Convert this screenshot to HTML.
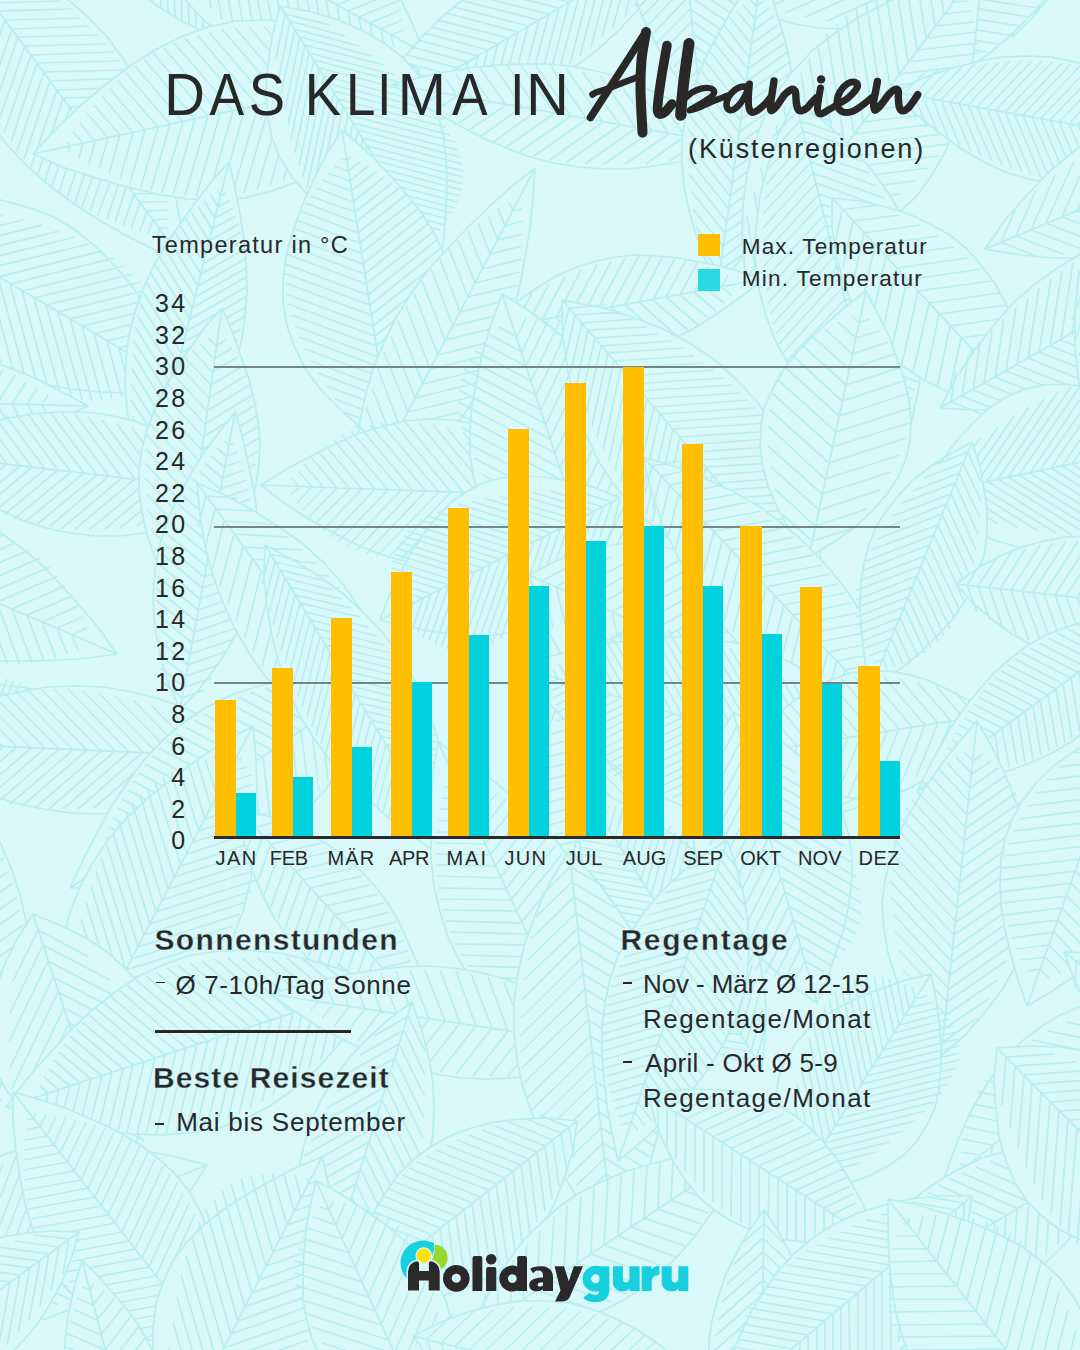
<!DOCTYPE html>
<html lang="de"><head><meta charset="utf-8"><title>Das Klima in Albanien</title>
<style>
html,body{margin:0;padding:0;}
body{width:1080px;height:1350px;overflow:hidden;background:#d8f8fa;position:relative;font-family:"Liberation Sans",sans-serif;}
.t{position:absolute;white-space:nowrap;}
.r{position:absolute;}
svg{position:absolute;left:0;top:0;}
</style></head><body>
<svg width="1080" height="1350" viewBox="0 0 1080 1350" style="position:absolute;left:0;top:0"><g fill="#d8f8fa" stroke="#baeff1" stroke-width="1.7" stroke-linejoin="round"><path d="M80,-144 58,-164 35,-182 12,-197 -12,-210 -36,-220 -61,-229 -86,-235 -112,-238 -138,-240 -165,-240 -192,-238 -220,-235 -247,-231 -275,-226 -275,-226 -252,-209 -229,-193 -206,-178 -182,-165 -158,-153 -134,-143 -109,-135 -84,-130 -58,-126 -31,-125 -4,-127 23,-130 51,-136 80,-144ZM80,-144L-275,-226M68,-147L63,-169M68,-147L53,-129M57,-149L50,-177M57,-149L39,-128M46,-152L37,-184M46,-152L24,-127M34,-155L25,-191M34,-155L10,-126M23,-157L12,-197M23,-157L-4,-126M11,-160L-0,-203M11,-160L-18,-126M-0,-163L-12,-209M-0,-163L-31,-126M-12,-165L-24,-214M-12,-165L-44,-127M-23,-168L-36,-218M-23,-168L-57,-128M-35,-170L-48,-222M-35,-170L-69,-130M-46,-173L-60,-225M-46,-173L-81,-132M-58,-176L-71,-228M-58,-176L-93,-134M-69,-178L-83,-231M-69,-178L-104,-137M-80,-181L-94,-233M-80,-181L-115,-140M-92,-184L-105,-234M-92,-184L-126,-144M-103,-186L-116,-235M-103,-186L-136,-148M-115,-189L-127,-236M-115,-189L-146,-152M-126,-191L-138,-236M-126,-191L-156,-157M-138,-194L-149,-236M-138,-194L-166,-161M-149,-197L-159,-235M-149,-197L-175,-167M-161,-199L-170,-234M-161,-199L-184,-172M-172,-202L-180,-233M-172,-202L-193,-178M-183,-205L-191,-232M-183,-205L-202,-183M-195,-207L-201,-230M-195,-207L-210,-189M-206,-210L-211,-228M-206,-210L-219,-196M-218,-212L-221,-226M-218,-212L-227,-202M-229,-215L-232,-224M-229,-215L-235,-208"/><path d="M-58,-285 -46,-260 -33,-237 -18,-217 -2,-198 15,-181 34,-166 53,-153 74,-143 96,-133 120,-126 143,-120 168,-115 193,-110 219,-107 219,-107 206,-130 191,-151 176,-171 161,-190 144,-208 127,-225 108,-239 88,-252 67,-262 45,-271 21,-277 -4,-282 -30,-285 -58,-285ZM-58,-285L219,-107M-48,-279L-42,-250M-48,-279L-19,-285M-37,-272L-30,-236M-37,-272L-2,-280M-27,-265L-18,-223M-27,-265L15,-275M-17,-259L-7,-211M-17,-259L31,-270M-7,-252L4,-199M-7,-252L46,-265M4,-246L15,-188M4,-246L61,-259M14,-239L26,-178M14,-239L74,-253M24,-232L37,-169M24,-232L87,-247M35,-226L48,-161M35,-226L99,-241M45,-219L58,-154M45,-219L110,-234M55,-213L69,-147M55,-213L120,-228M65,-206L79,-141M65,-206L130,-221M76,-200L89,-136M76,-200L139,-214M86,-193L98,-132M86,-193L146,-207M96,-186L108,-128M96,-186L154,-200M106,-180L118,-126M106,-180L160,-192M117,-173L127,-123M117,-173L166,-185M127,-167L136,-122M127,-167L172,-177M137,-160L145,-120M137,-160L177,-169M148,-153L154,-120M148,-153L181,-161M158,-147L163,-119M158,-147L185,-153M168,-140L172,-119M168,-140L189,-145M178,-134L181,-119M178,-134L193,-137M189,-127L190,-120M189,-127L196,-129"/><path d="M362,-94 351,-128 337,-157 322,-183 305,-206 286,-225 265,-241 242,-253 218,-262 192,-268 164,-271 135,-271 105,-270 75,-267 43,-262 43,-262 57,-232 72,-206 87,-180 104,-157 122,-136 142,-117 163,-102 185,-90 210,-82 237,-77 265,-76 296,-78 328,-84 362,-94ZM362,-94L43,-262M351,-99L335,-147M351,-99L303,-86M341,-105L320,-164M341,-105L281,-88M330,-111L306,-179M330,-111L260,-91M319,-116L292,-194M319,-116L240,-94M309,-122L279,-208M309,-122L221,-97M298,-127L266,-220M298,-127L203,-101M287,-133L253,-232M287,-133L187,-105M277,-139L241,-242M277,-139L171,-109M266,-144L229,-251M266,-144L157,-114M256,-150L218,-260M256,-150L144,-119M245,-155L207,-266M245,-155L132,-124M234,-161L196,-272M234,-161L121,-129M224,-166L186,-277M224,-166L111,-135M213,-172L176,-281M213,-172L103,-141M202,-178L166,-283M202,-178L95,-148M192,-183L157,-285M192,-183L89,-155M181,-189L148,-285M181,-189L83,-162M170,-194L139,-285M170,-194L78,-169M160,-200L131,-284M160,-200L75,-176M149,-206L123,-282M149,-206L71,-184M139,-211L115,-279M139,-211L69,-192M128,-217L108,-276M128,-217L67,-200M117,-222L100,-273M117,-222L66,-208M107,-228L93,-268M107,-228L66,-217M96,-234L86,-264M96,-234L65,-225M85,-239L79,-259M85,-239L66,-234M75,-245L72,-253M75,-245L67,-243"/><path d="M242,-217 247,-191 255,-167 264,-145 275,-125 288,-106 302,-89 318,-74 336,-61 355,-50 376,-40 398,-31 420,-24 443,-17 468,-11 468,-11 460,-35 451,-57 441,-79 430,-100 419,-119 406,-137 391,-154 375,-169 357,-181 337,-192 316,-201 293,-209 268,-214 242,-217ZM242,-217L468,-11M250,-210L251,-179M250,-210L281,-212M258,-202L259,-163M258,-202L297,-205M267,-194L268,-149M267,-194L312,-197M275,-187L277,-135M275,-187L327,-190M283,-179L285,-122M283,-179L341,-183M292,-172L294,-110M292,-172L353,-175M300,-164L302,-99M300,-164L365,-168M309,-156L311,-88M309,-156L376,-160M317,-149L319,-79M317,-149L387,-153M325,-141L327,-70M325,-141L396,-145M334,-133L336,-63M334,-133L404,-138M342,-126L344,-56M342,-126L412,-130M350,-118L352,-50M350,-118L418,-122M359,-110L361,-45M359,-110L424,-114M367,-103L369,-40M367,-103L429,-107M376,-95L377,-37M376,-95L434,-99M384,-87L386,-34M384,-87L438,-91M392,-80L394,-31M392,-80L441,-83M401,-72L402,-29M401,-72L443,-75M409,-64L410,-28M409,-64L446,-67M417,-57L418,-27M417,-57L447,-59M426,-49L427,-26M426,-49L449,-51M434,-41L435,-26M434,-41L450,-42M443,-34L443,-26M443,-34L450,-34"/><path d="M701,-88 682,-113 661,-135 640,-154 618,-170 595,-183 571,-194 547,-202 521,-207 495,-210 468,-210 440,-208 412,-205 384,-201 355,-195 355,-195 376,-174 397,-155 418,-136 440,-120 462,-105 486,-92 510,-82 534,-74 560,-70 586,-68 614,-69 642,-72 671,-79 701,-88ZM701,-88L355,-195M692,-91L687,-118M692,-91L673,-72M683,-94L677,-126M683,-94L660,-71M674,-97L667,-134M674,-97L647,-70M665,-100L657,-141M665,-100L635,-70M656,-102L647,-148M656,-102L623,-69M646,-105L637,-155M646,-105L611,-69M637,-108L628,-161M637,-108L599,-70M628,-111L618,-167M628,-111L588,-70M619,-114L608,-173M619,-114L577,-71M610,-116L599,-178M610,-116L566,-72M601,-119L589,-182M601,-119L556,-74M592,-122L580,-186M592,-122L546,-76M583,-125L571,-190M583,-125L536,-78M574,-128L561,-194M574,-128L526,-80M564,-131L552,-196M564,-131L517,-83M555,-133L543,-199M555,-133L508,-86M546,-136L534,-201M546,-136L500,-89M537,-139L525,-203M537,-139L491,-93M528,-142L517,-204M528,-142L483,-97M519,-145L508,-205M519,-145L476,-101M510,-147L499,-206M510,-147L468,-105M501,-150L490,-206M501,-150L461,-110M492,-153L482,-206M492,-153L454,-115M483,-156L473,-206M483,-156L447,-120M473,-159L465,-205M473,-159L440,-125M464,-162L456,-204M464,-162L434,-131M455,-164L448,-203M455,-164L427,-136M446,-167L440,-202M446,-167L421,-142M437,-170L431,-200M437,-170L415,-148M428,-173L423,-199M428,-173L409,-154M419,-176L415,-197M419,-176L404,-160M410,-178L407,-195M410,-178L398,-167M401,-181L399,-192M401,-181L393,-173M391,-184L390,-190M391,-184L387,-180"/><path d="M832,-48 820,-75 807,-99 793,-121 777,-140 760,-157 742,-172 722,-184 700,-194 677,-201 653,-207 629,-211 603,-214 577,-216 550,-216 550,-216 563,-192 577,-170 591,-149 607,-129 623,-111 641,-94 660,-80 680,-68 702,-59 725,-52 749,-47 775,-45 802,-45 832,-48ZM832,-48L550,-216M821,-54L819,-85M821,-54L793,-41M810,-61L808,-99M810,-61L775,-44M799,-67L797,-112M799,-67L758,-48M788,-74L786,-125M788,-74L742,-52M777,-80L775,-137M777,-80L726,-56M767,-87L764,-147M767,-87L712,-60M756,-93L753,-157M756,-93L698,-65M745,-100L742,-166M745,-100L685,-71M734,-106L731,-174M734,-106L673,-77M723,-113L720,-181M723,-113L661,-83M712,-119L709,-187M712,-119L651,-90M701,-125L698,-192M701,-125L641,-97M691,-132L687,-197M691,-132L632,-104M680,-138L677,-200M680,-138L624,-112M669,-145L666,-203M669,-145L616,-120M658,-151L655,-205M658,-151L609,-128M647,-158L645,-207M647,-158L603,-137M636,-164L634,-207M636,-164L597,-146M625,-171L624,-208M625,-171L592,-155M615,-177L613,-208M615,-177L587,-164M604,-184L603,-207M604,-184L583,-174M593,-190L592,-206M593,-190L578,-183M582,-197L582,-205M582,-197L575,-193"/><path d="M1057,-107 1039,-130 1021,-150 1002,-166 982,-179 962,-190 942,-196 921,-200 899,-200 877,-198 855,-193 832,-186 809,-177 785,-166 762,-154 762,-154 780,-134 799,-117 818,-102 838,-88 858,-76 878,-67 898,-60 919,-57 941,-57 963,-61 986,-67 1009,-77 1033,-90 1057,-107ZM1057,-107L762,-154M1042,-109L1017,-146M1042,-109L1007,-82M1026,-111L994,-159M1026,-111L981,-76M1010,-114L973,-171M1010,-114L957,-71M995,-116L952,-181M995,-116L934,-68M979,-119L933,-189M979,-119L913,-67M964,-121L915,-195M964,-121L894,-66M948,-124L898,-199M948,-124L877,-68M933,-126L883,-202M933,-126L862,-70M917,-129L869,-202M917,-129L848,-74M902,-131L856,-201M902,-131L836,-80M886,-134L844,-198M886,-134L826,-86M871,-136L833,-193M871,-136L817,-94M855,-139L823,-188M855,-139L809,-102M839,-141L813,-181M839,-141L802,-112M824,-144L804,-173M824,-144L796,-122M808,-146L796,-165M808,-146L791,-132M793,-149L788,-155M793,-149L787,-144"/><path d="M1013,37 1032,18 1048,-1 1061,-20 1071,-40 1078,-59 1082,-79 1083,-99 1081,-119 1077,-139 1070,-160 1061,-180 1051,-200 1039,-221 1025,-241 1025,-241 1010,-222 996,-203 984,-183 973,-164 964,-144 958,-125 954,-105 954,-85 956,-65 961,-45 970,-24 981,-4 995,17 1013,37ZM1013,37L1025,-241M1013,27L1041,7M1013,27L987,5M1013,17L1048,-8M1013,17L981,-11M1014,6L1055,-22M1014,6L976,-26M1014,-4L1061,-37M1014,-4L971,-41M1015,-14L1066,-50M1015,-14L967,-55M1015,-25L1070,-63M1015,-25L964,-68M1016,-35L1074,-76M1016,-35L961,-81M1016,-45L1077,-88M1016,-45L960,-93M1017,-56L1079,-100M1017,-56L959,-105M1017,-66L1080,-110M1017,-66L958,-116M1018,-76L1081,-121M1018,-76L959,-126M1018,-87L1080,-130M1018,-87L960,-136M1019,-97L1079,-140M1019,-97L962,-145M1019,-107L1078,-148M1019,-107L964,-154M1019,-117L1075,-157M1019,-117L968,-162M1020,-128L1072,-165M1020,-128L971,-169M1020,-138L1068,-172M1020,-138L976,-176M1021,-148L1064,-179M1021,-148L981,-183M1021,-159L1059,-186M1021,-159L986,-189M1022,-169L1054,-192M1022,-169L991,-195M1022,-179L1049,-198M1022,-179L997,-200M1023,-190L1043,-204M1023,-190L1004,-206M1023,-200L1037,-210M1023,-200L1010,-211M1024,-210L1030,-215M1024,-210L1017,-216"/><path d="M1018,2 1052,-3 1083,-11 1112,-21 1138,-33 1162,-47 1184,-64 1204,-83 1221,-104 1236,-128 1250,-153 1261,-180 1272,-208 1281,-237 1290,-268 1290,-268 1259,-260 1230,-251 1201,-240 1175,-229 1149,-215 1126,-200 1104,-183 1085,-164 1068,-142 1053,-118 1041,-92 1031,-63 1023,-32 1018,2ZM1018,2L1290,-268M1026,-6L1063,-4M1026,-6L1024,-44M1034,-14L1080,-12M1034,-14L1032,-60M1042,-22L1095,-19M1042,-22L1040,-75M1050,-30L1110,-27M1050,-30L1047,-90M1058,-38L1124,-34M1058,-38L1055,-104M1066,-46L1137,-42M1066,-46L1063,-117M1074,-54L1150,-50M1074,-54L1070,-130M1082,-62L1162,-57M1082,-62L1078,-142M1090,-70L1173,-65M1090,-70L1086,-153M1098,-78L1184,-73M1098,-78L1094,-164M1106,-86L1194,-81M1106,-86L1102,-174M1114,-94L1203,-88M1114,-94L1109,-183M1122,-101L1212,-96M1122,-101L1117,-191M1130,-109L1219,-104M1130,-109L1125,-199M1138,-117L1226,-112M1138,-117L1133,-206M1146,-125L1233,-120M1146,-125L1141,-212M1154,-133L1239,-128M1154,-133L1150,-218M1162,-141L1244,-136M1162,-141L1158,-223M1170,-149L1248,-145M1170,-149L1166,-228M1178,-157L1252,-153M1178,-157L1174,-231M1186,-165L1256,-161M1186,-165L1182,-235M1194,-173L1259,-169M1194,-173L1190,-238M1202,-181L1261,-177M1202,-181L1199,-240M1210,-189L1263,-186M1210,-189L1207,-242M1218,-197L1265,-194M1218,-197L1215,-244M1226,-205L1266,-202M1226,-205L1224,-245M1234,-212L1268,-211M1234,-212L1232,-246M1242,-220L1268,-219M1242,-220L1240,-247M1250,-228L1269,-227M1250,-228L1249,-247M1258,-236L1269,-236M1258,-236L1257,-248"/><path d="M-307,65 -277,79 -248,88 -220,94 -194,97 -169,97 -145,92 -123,84 -102,73 -82,58 -63,41 -45,21 -27,-0 -10,-23 6,-49 6,-49 -23,-58 -50,-65 -78,-70 -104,-74 -130,-75 -155,-73 -178,-68 -201,-60 -221,-48 -241,-33 -260,-14 -277,9 -293,34 -307,65ZM-307,65L6,-49M-296,61L-256,82M-296,61L-279,19M-284,56L-235,83M-284,56L-263,4M-272,52L-214,84M-272,52L-248,-9M-261,48L-195,84M-261,48L-233,-22M-249,44L-177,83M-249,44L-219,-33M-238,39L-159,82M-238,39L-205,-43M-226,35L-143,81M-226,35L-192,-52M-214,31L-128,78M-214,31L-179,-60M-203,27L-114,75M-203,27L-166,-67M-191,23L-102,72M-191,23L-154,-72M-180,18L-90,68M-180,18L-142,-76M-168,14L-80,63M-168,14L-131,-80M-156,10L-70,57M-156,10L-120,-81M-145,6L-62,51M-145,6L-110,-82M-133,2L-54,45M-133,2L-100,-82M-122,-3L-48,38M-122,-3L-91,-81M-110,-7L-42,31M-110,-7L-82,-79M-98,-11L-37,23M-98,-11L-73,-76M-87,-15L-33,15M-87,-15L-64,-73M-75,-19L-29,6M-75,-19L-56,-68M-64,-24L-26,-3M-64,-24L-48,-64M-52,-28L-23,-12M-52,-28L-40,-58M-40,-32L-21,-21M-40,-32L-32,-53M-29,-36L-19,-31M-29,-36L-25,-46"/><path d="M-123,184 -89,171 -60,157 -34,141 -11,123 8,103 23,82 35,58 43,33 47,7 49,-21 49,-50 46,-81 42,-111 35,-143 35,-143 6,-129 -20,-113 -46,-96 -69,-79 -90,-60 -108,-40 -122,-18 -134,6 -141,31 -145,58 -145,87 -141,117 -135,149 -123,184ZM-123,184L35,-143M-118,174L-77,167M-118,174L-139,137M-114,164L-63,155M-114,164L-138,118M-109,154L-49,144M-109,154L-138,101M-104,144L-37,133M-104,144L-137,84M-99,134L-25,121M-99,134L-135,68M-94,124L-14,111M-94,124L-133,53M-90,114L-4,100M-90,114L-131,38M-85,104L5,89M-85,104L-128,24M-80,94L14,78M-80,94L-125,11M-75,85L21,68M-75,85L-122,-1M-70,75L28,58M-70,75L-118,-13M-66,65L34,48M-66,65L-114,-24M-61,55L39,38M-61,55L-109,-34M-56,45L43,28M-56,45L-104,-44M-51,35L47,18M-51,35L-99,-52M-46,25L50,9M-46,25L-93,-60M-42,15L51,-1M-42,15L-87,-68M-37,5L53,-10M-37,5L-80,-74M-32,-5L53,-19M-32,-5L-73,-80M-27,-15L53,-28M-27,-15L-66,-86M-22,-24L52,-37M-22,-24L-58,-91M-17,-34L51,-46M-17,-34L-51,-95M-13,-44L49,-55M-13,-44L-43,-99M-8,-54L47,-64M-8,-54L-34,-103M-3,-64L44,-72M-3,-64L-26,-106M2,-74L41,-81M2,-74L-17,-109M7,-84L38,-89M7,-84L-9,-112M11,-94L34,-98M11,-94L0,-114M16,-104L30,-106M16,-104L10,-116"/><path d="M53,-160 60,-132 69,-107 80,-83 93,-61 107,-41 123,-23 140,-7 159,7 180,20 202,31 226,41 250,49 275,57 301,64 301,64 291,39 281,15 270,-8 258,-30 244,-51 230,-71 214,-88 196,-104 176,-118 155,-130 132,-140 108,-149 81,-156 53,-160ZM53,-160L301,64M60,-153L61,-124M60,-153L89,-156M67,-147L68,-111M67,-147L103,-150M74,-141L75,-99M74,-141L115,-144M81,-134L82,-88M81,-134L128,-138M88,-128L89,-76M88,-128L140,-132M96,-121L97,-66M96,-121L151,-126M103,-115L104,-56M103,-115L162,-120M110,-109L111,-46M110,-109L172,-114M117,-102L118,-37M117,-102L182,-107M124,-96L125,-28M124,-96L191,-101M131,-89L132,-20M131,-89L200,-95M138,-83L139,-13M138,-83L208,-89M145,-77L146,-6M145,-77L216,-82M152,-70L153,1M152,-70L223,-76M159,-64L161,7M159,-64L229,-69M166,-57L168,12M166,-57L236,-63M173,-51L175,17M173,-51L241,-56M180,-45L182,22M180,-45L246,-50M187,-38L189,26M187,-38L251,-43M195,-32L196,29M195,-32L255,-37M202,-25L203,32M202,-25L259,-30M209,-19L210,35M209,-19L263,-23M216,-13L217,38M216,-13L266,-17M223,-6L224,40M223,-6L268,-10M230,0L231,41M230,0L271,-3M237,7L238,43M237,7L273,4M244,13L245,44M244,13L275,11M251,19L252,45M251,19L277,17M258,26L259,46M258,26L278,24M265,32L266,47M265,32L280,31M272,39L272,47M272,39L281,38"/><path d="M142,-103 150,-71 161,-44 174,-19 188,3 205,21 223,35 243,47 265,55 288,60 313,63 340,63 367,61 395,58 424,53 424,53 413,25 401,0 388,-24 373,-46 358,-66 341,-83 323,-97 303,-108 281,-116 256,-120 231,-121 203,-119 174,-113 142,-103ZM142,-103L424,53M153,-97L161,-54M153,-97L194,-114M164,-91L173,-36M164,-91L215,-112M174,-85L186,-20M174,-85L236,-110M185,-79L198,-6M185,-79L255,-107M196,-73L211,8M196,-73L273,-104M207,-67L222,20M207,-67L289,-101M218,-61L234,31M218,-61L305,-96M229,-55L246,41M229,-55L319,-92M240,-49L257,49M240,-49L332,-86M250,-43L268,56M250,-43L343,-81M261,-37L279,61M261,-37L354,-75M272,-31L289,65M272,-31L363,-68M283,-25L300,68M283,-25L371,-61M294,-19L310,70M294,-19L378,-53M305,-13L320,71M305,-13L384,-45M315,-7L329,70M315,-7L389,-37M326,-1L339,69M326,-1L393,-28M337,5L348,67M337,5L396,-19M348,11L357,64M348,11L398,-9M359,17L367,61M359,17L400,0M370,23L376,57M370,23L401,10M381,29L385,52M381,29L402,20M391,35L394,47M391,35L403,30"/><path d="M690,-69 657,-69 625,-67 595,-62 566,-55 539,-45 513,-33 488,-19 465,-2 443,16 422,37 402,59 383,83 364,107 347,133 347,133 378,130 408,126 438,120 467,114 495,105 523,95 548,83 573,68 596,51 617,32 638,10 656,-14 674,-40 690,-69ZM690,-69L347,133M680,-63L648,-71M680,-63L671,-31M670,-57L631,-67M670,-57L660,-19M660,-51L614,-63M660,-51L648,-6M650,-45L599,-58M650,-45L636,6M639,-39L583,-54M639,-39L625,17M629,-33L568,-49M629,-33L613,27M619,-28L554,-44M619,-28L602,37M609,-22L541,-39M609,-22L591,47M599,-16L528,-34M599,-16L580,56M589,-10L515,-28M589,-10L570,64M579,-4L504,-23M579,-4L559,71M569,2L492,-17M569,2L549,78M559,8L482,-11M559,8L539,85M549,14L472,-5M549,14L528,91M539,20L463,1M539,20L519,96M528,26L454,7M528,26L509,100M518,32L446,13M518,32L499,104M508,38L438,20M508,38L490,108M498,44L431,27M498,44L480,111M488,50L424,33M488,50L471,114M478,56L418,40M478,56L462,116M468,62L412,47M468,62L453,117M458,68L407,55M458,68L444,119M448,74L402,62M448,74L436,119M438,79L397,69M438,79L427,120M428,85L393,77M428,85L418,120M417,91L388,84M417,91L410,120M407,97L384,91M407,97L401,120M397,103L381,99M397,103L393,120M387,109L377,107M387,109L385,119"/><path d="M671,-178 656,-156 645,-134 637,-113 631,-91 628,-70 627,-49 629,-29 633,-9 640,11 649,31 660,51 672,70 686,89 701,108 701,108 712,87 721,65 729,43 735,22 740,1 742,-20 743,-41 740,-61 735,-82 728,-101 717,-121 705,-140 689,-159 671,-178ZM671,-178L701,108M672,-166L650,-143M672,-166L699,-148M673,-153L645,-124M673,-153L708,-130M675,-141L641,-106M675,-141L715,-114M676,-128L637,-89M676,-128L722,-97M677,-116L635,-72M677,-116L728,-82M679,-103L633,-57M679,-103L733,-67M680,-91L632,-42M680,-91L737,-53M681,-79L632,-28M681,-79L739,-40M682,-66L633,-15M682,-66L741,-27M684,-54L635,-3M684,-54L742,-15M685,-41L638,8M685,-41L742,-3M686,-29L641,18M686,-29L740,8M688,-16L645,28M688,-16L738,18M689,-4L650,37M689,-4L736,28M690,9L655,45M690,9L732,37M692,21L661,53M692,21L728,46M693,34L667,60M693,34L723,54M694,46L674,67M694,46L718,62M696,59L681,73M696,59L713,70M697,71L689,79M697,71L707,78"/><path d="M926,17 912,-9 896,-32 880,-52 862,-70 843,-85 823,-97 802,-107 779,-114 756,-119 731,-121 706,-122 680,-121 654,-119 627,-116 627,-116 642,-93 659,-73 676,-53 693,-35 711,-18 731,-4 751,8 772,17 795,24 819,28 844,29 870,27 897,24 926,17ZM926,17L627,-116M911,10L899,-26M911,10L876,26M896,3L881,-43M896,3L851,24M881,-3L863,-59M881,-3L827,21M866,-10L846,-73M866,-10L805,17M851,-16L829,-85M851,-16L785,13M836,-23L813,-96M836,-23L766,8M821,-30L797,-105M821,-30L749,3M806,-36L782,-112M806,-36L734,-4M791,-43L767,-117M791,-43L720,-11M776,-50L753,-121M776,-50L708,-19M761,-56L740,-123M761,-56L697,-27M746,-63L727,-124M746,-63L688,-36M731,-69L714,-124M731,-69L679,-46M716,-76L702,-122M716,-76L672,-56M702,-83L689,-120M702,-83L666,-67M687,-89L678,-117M687,-89L660,-77M672,-96L666,-113M672,-96L655,-89M657,-103L655,-108M657,-103L651,-100"/><path d="M813,120 843,117 871,110 898,103 923,93 947,81 970,68 991,52 1011,35 1030,16 1048,-4 1064,-26 1080,-49 1096,-72 1110,-97 1110,-97 1082,-91 1055,-83 1029,-75 1003,-65 978,-55 954,-43 932,-29 911,-13 891,4 873,24 856,45 840,68 826,93 813,120ZM813,120L1110,-97M825,112L855,116M825,112L829,82M837,103L874,109M837,103L843,65M849,94L893,101M849,94L856,50M860,86L911,93M860,86L868,35M872,77L928,86M872,77L881,21M884,68L944,77M884,68L894,9M896,60L959,69M896,60L906,-3M908,51L973,61M908,51L918,-14M920,42L986,52M920,42L930,-24M932,33L998,44M932,33L942,-33M944,25L1009,35M944,25L954,-41M956,16L1020,26M956,16L966,-48M967,7L1029,17M967,7L977,-54M979,-1L1037,8M979,-1L988,-59M991,-10L1045,-2M991,-10L1000,-64M1003,-19L1052,-11M1003,-19L1011,-68M1015,-27L1059,-21M1015,-27L1022,-71M1027,-36L1065,-30M1027,-36L1033,-74M1039,-45L1070,-40M1039,-45L1044,-76M1051,-53L1075,-50M1051,-53L1054,-77M1063,-62L1079,-60M1063,-62L1065,-79M1074,-71L1083,-69M1074,-71L1076,-80"/><path d="M1257,110 1253,83 1247,58 1239,34 1229,12 1217,-9 1204,-28 1189,-45 1172,-61 1153,-76 1133,-89 1112,-101 1089,-112 1066,-122 1042,-132 1042,-132 1049,-107 1056,-82 1065,-59 1074,-37 1085,-15 1097,5 1111,24 1126,41 1144,57 1163,71 1184,83 1206,94 1231,103 1257,110ZM1257,110L1042,-132M1251,103L1259,81M1251,103L1229,109M1245,96L1255,70M1245,96L1217,103M1238,89L1250,58M1238,89L1207,97M1232,82L1245,47M1232,82L1196,91M1226,75L1240,36M1226,75L1186,84M1219,68L1235,26M1219,68L1176,78M1213,60L1230,16M1213,60L1167,72M1207,53L1224,7M1207,53L1158,65M1200,46L1219,-2M1200,46L1150,59M1194,39L1213,-11M1194,39L1142,52M1188,32L1207,-19M1188,32L1135,45M1181,25L1201,-27M1181,25L1128,38M1175,18L1195,-35M1175,18L1121,31M1169,11L1188,-42M1169,11L1115,24M1162,3L1182,-48M1162,3L1109,17M1156,-4L1175,-54M1156,-4L1104,9M1150,-11L1168,-60M1150,-11L1099,2M1143,-18L1161,-66M1143,-18L1094,-6M1137,-25L1154,-71M1137,-25L1090,-13M1131,-32L1147,-76M1131,-32L1086,-21M1124,-39L1140,-80M1124,-39L1082,-29M1118,-46L1132,-84M1118,-46L1079,-37M1112,-53L1125,-88M1112,-53L1076,-45M1105,-61L1117,-92M1105,-61L1073,-53M1099,-68L1109,-95M1099,-68L1070,-61M1093,-75L1102,-99M1093,-75L1068,-69M1086,-82L1094,-102M1086,-82L1066,-77M1080,-89L1086,-105M1080,-89L1064,-85M1074,-96L1078,-107M1074,-96L1062,-93M1067,-103L1070,-110M1067,-103L1061,-102"/><path d="M-266,116 -244,131 -221,142 -199,152 -177,159 -154,164 -132,166 -109,166 -87,164 -64,160 -42,154 -19,146 3,138 26,128 48,116 48,116 26,105 3,95 -19,86 -42,79 -64,72 -87,68 -109,66 -132,66 -154,69 -176,73 -199,81 -221,90 -244,101 -266,116ZM-266,116L48,116M-256,116L-245,136M-256,116L-245,96M-246,116L-233,141M-246,116L-232,91M-236,116L-220,145M-236,116L-220,87M-226,116L-208,149M-226,116L-208,83M-216,116L-196,152M-216,116L-196,80M-205,116L-184,155M-205,116L-184,77M-195,116L-173,158M-195,116L-172,75M-185,116L-161,160M-185,116L-161,72M-175,116L-150,161M-175,116L-150,71M-165,116L-139,163M-165,116L-139,70M-155,116L-129,163M-155,116L-129,69M-145,116L-119,164M-145,116L-119,69M-134,116L-109,163M-134,116L-108,69M-124,116L-99,163M-124,116L-99,70M-114,116L-89,162M-114,116L-89,71M-104,116L-80,160M-104,116L-80,72M-94,116L-71,159M-94,116L-71,74M-84,116L-62,156M-84,116L-62,76M-74,116L-53,154M-74,116L-53,79M-63,116L-45,151M-63,116L-44,82M-53,116L-36,148M-53,116L-36,85M-43,116L-28,144M-43,116L-28,88M-33,116L-20,141M-33,116L-20,92M-23,116L-12,137M-23,116L-12,96M-13,116L-4,133M-13,116L-4,100M-3,116L4,128M-3,116L4,104M8,116L12,124M8,116L12,109"/><path d="M-53,-58 -53,-23 -49,10 -43,41 -34,70 -23,97 -9,123 8,146 28,167 50,186 74,204 99,220 127,236 155,250 185,263 185,263 182,231 176,199 169,169 161,139 151,111 139,84 124,60 107,37 87,16 65,-3 39,-20 12,-35 -19,-48 -53,-58ZM-53,-58L185,263M-46,-49L-57,-17M-46,-49L-12,-51M-40,-41L-53,-2M-40,-41L1,-42M-33,-32L-49,13M-33,-32L14,-34M-27,-23L-44,27M-27,-23L26,-25M-20,-15L-39,41M-20,-15L38,-17M-14,-6L-34,54M-14,-6L49,-8M-8,3L-29,67M-8,3L60,1M-1,11L-24,79M-1,11L71,9M5,20L-19,91M5,20L80,18M12,29L-13,102M12,29L89,26M18,37L-8,113M18,37L98,35M25,46L-2,123M25,46L106,44M31,55L4,133M31,55L114,52M37,63L11,142M37,63L120,61M44,72L17,151M44,72L127,70M50,81L24,159M50,81L133,78M57,90L31,167M57,90L138,87M63,98L38,174M63,98L143,96M70,107L45,180M70,107L147,104M76,116L52,186M76,116L151,113M82,124L59,192M82,124L154,122M89,133L67,198M89,133L157,131M95,142L75,203M95,142L160,140M102,150L82,207M102,150L162,148M108,159L90,211M108,159L164,157M115,168L98,215M115,168L165,166M121,176L107,219M121,176L166,175M127,185L115,222M127,185L167,184M134,194L123,226M134,194L168,193M140,202L131,229M140,202L168,202M147,211L140,231M147,211L168,210M153,220L148,234M153,220L168,219M160,228L157,236M160,228L168,228"/><path d="M420,70 387,52 355,38 324,28 294,22 264,20 236,21 208,27 181,37 155,50 130,66 105,85 80,106 56,129 33,154 33,154 65,168 96,178 127,187 157,194 187,199 216,200 245,198 272,191 299,181 325,167 350,149 374,127 398,101 420,70ZM420,70L33,154M407,73L382,43M407,73L396,111M395,76L363,39M395,76L381,123M382,78L345,35M382,78L367,133M370,81L328,32M370,81L352,143M357,84L311,30M357,84L338,152M345,87L295,28M345,87L324,161M332,89L279,27M332,89L310,168M320,92L264,26M320,92L296,175M308,95L249,27M308,95L283,181M295,97L235,28M295,97L270,186M283,100L222,29M283,100L257,190M270,103L209,32M270,103L244,193M258,106L197,35M258,106L232,195M245,108L185,38M245,108L220,197M233,111L174,43M233,111L208,197M220,114L164,48M220,114L196,197M208,116L153,53M208,116L185,196M195,119L144,59M195,119L173,195M183,122L135,66M183,122L162,193M170,124L126,73M170,124L151,190M158,127L117,80M158,127L141,187M145,130L109,88M145,130L130,183M133,133L102,96M133,133L120,179M120,135L94,105M120,135L109,174M108,138L87,113M108,138L99,169M95,141L80,123M95,141L89,164M83,143L73,132M83,143L79,158M70,146L67,142M70,146L69,152"/><path d="M280,6 272,37 268,65 266,91 268,116 272,138 280,158 292,177 306,193 323,208 343,221 365,233 388,244 413,254 440,263 440,263 444,235 446,208 447,182 446,157 443,134 437,112 429,92 417,73 402,57 384,43 363,31 339,20 312,12 280,6ZM280,6L440,263M285,14L276,59M285,14L330,25M290,21L279,77M290,21L345,36M295,29L281,94M295,29L359,46M300,37L285,110M300,37L372,56M305,45L288,125M305,45L384,65M309,53L291,139M309,53L395,75M314,60L295,153M314,60L406,84M319,68L299,166M319,68L416,93M324,76L303,177M324,76L424,102M329,84L307,188M329,84L432,110M334,91L311,198M334,91L439,119M338,99L316,207M338,99L445,127M343,107L321,215M343,107L450,135M348,115L326,222M348,115L455,142M353,123L331,229M353,123L458,150M358,130L336,234M358,130L460,157M363,138L342,239M363,138L462,164M367,146L347,243M367,146L463,171M372,154L353,246M372,154L463,177M377,161L359,248M377,161L463,184M382,169L365,250M382,169L462,190M387,177L371,251M387,177L460,196M392,185L378,252M392,185L458,202M397,193L384,252M397,193L455,208M401,200L391,252M401,200L452,213M406,208L397,251M406,208L448,219M411,216L404,250M411,216L444,225M416,224L411,248M416,224L440,230M421,232L418,246M421,232L435,235"/><path d="M734,145 712,127 689,111 667,98 643,87 620,77 596,71 571,66 547,64 522,64 496,65 470,68 445,72 418,78 392,84 392,84 415,100 437,113 460,126 483,138 506,148 530,157 554,163 579,167 603,169 629,169 654,166 680,162 707,155 734,145ZM734,145L392,84M717,142L700,117M717,142L692,160M701,139L678,107M701,139L668,162M685,136L658,97M685,136L646,164M669,134L638,89M669,134L625,164M652,131L619,82M652,131L604,164M636,128L600,76M636,128L585,164M620,125L583,72M620,125L567,162M603,122L566,68M603,122L550,160M587,119L550,65M587,119L534,156M571,116L535,64M571,116L519,152M555,113L520,64M555,113L505,148M538,110L506,64M538,110L492,143M522,107L493,65M522,107L480,137M506,105L480,68M506,105L469,130M490,102L468,70M490,102L459,123M473,99L456,74M473,99L449,116M457,96L445,78M457,96L439,108M441,93L433,82M441,93L430,100"/><path d="M718,284 737,264 752,243 765,222 776,200 785,178 791,156 794,134 795,111 793,88 790,64 785,40 778,17 771,-7 762,-32 762,-32 746,-11 732,10 720,31 708,53 699,74 691,96 685,119 682,141 682,164 684,187 689,211 696,235 705,259 718,284ZM718,284L762,-32M719,271L745,253M719,271L700,246M721,259L754,235M721,259L696,227M723,246L762,218M723,246L693,209M725,233L769,202M725,233L691,191M726,221L775,186M726,221L689,174M728,208L780,171M728,208L688,158M730,196L785,156M730,196L688,143M732,183L788,142M732,183L688,129M733,170L791,129M733,170L689,115M735,158L793,116M735,158L691,102M737,145L794,104M737,145L693,90M739,132L795,93M739,132L696,79M740,120L794,82M740,120L699,68M742,107L793,71M742,107L703,59M744,95L791,61M744,95L708,49M746,82L789,51M746,82L713,41M748,69L786,42M748,69L718,33M749,57L782,33M749,57L724,25M751,44L778,25M751,44L730,18M753,31L774,16M753,31L737,11M755,19L769,8M755,19L743,5M756,6L764,1M756,6L750,-1"/><path d="M746,278 783,271 815,261 845,248 872,233 895,216 916,197 932,175 946,150 957,123 965,95 972,65 976,33 979,1 980,-33 980,-33 948,-23 917,-11 888,2 861,16 836,32 813,50 794,70 777,92 764,117 754,145 747,174 743,206 742,241 746,278ZM746,278L980,-33M755,266L805,260M755,266L747,216M764,254L827,246M764,254L754,191M773,242L847,233M773,242L761,168M782,230L867,220M782,230L769,146M791,218L884,206M791,218L776,125M800,206L900,194M800,206L784,106M809,194L915,181M809,194L792,89M818,182L928,168M818,182L801,73M827,170L939,156M827,170L809,58M836,158L949,144M836,158L818,45M845,146L958,132M845,146L827,34M854,134L965,120M854,134L837,24M863,122L970,109M863,122L846,15M872,110L974,97M872,110L856,8M881,98L977,86M881,98L866,2M890,86L979,75M890,86L876,-2M899,74L980,64M899,74L886,-6M908,62L979,53M908,62L897,-9M917,50L978,43M917,50L907,-11M926,38L976,32M926,38L918,-12M935,26L974,22M935,26L929,-12M944,14L971,11M944,14L940,-12M953,2L967,1M953,2L951,-11"/><path d="M895,92 916,114 938,132 960,148 982,161 1005,172 1029,179 1053,184 1077,186 1102,185 1128,182 1154,177 1180,171 1206,163 1233,154 1233,154 1211,135 1189,119 1167,104 1145,90 1122,78 1099,69 1075,62 1051,57 1026,56 1001,57 976,62 949,69 923,78 895,92ZM895,92L1233,154M905,93L916,120M905,93L924,73M914,95L927,127M914,95L937,70M923,97L938,133M923,97L950,68M932,98L949,140M932,98L963,66M941,100L960,146M941,100L975,64M950,102L971,151M950,102L987,63M959,103L981,156M959,103L999,62M968,105L992,161M968,105L1010,61M977,107L1002,165M977,107L1021,61M987,108L1012,169M987,108L1032,61M996,110L1022,172M996,110L1042,61M1005,112L1031,175M1005,112L1052,62M1014,113L1041,178M1014,113L1062,63M1023,115L1050,180M1023,115L1071,64M1032,117L1059,181M1032,117L1080,66M1041,118L1068,183M1041,118L1089,68M1050,120L1077,183M1050,120L1098,70M1059,122L1085,184M1059,122L1106,73M1069,124L1094,184M1069,124L1114,76M1078,125L1102,183M1078,125L1121,79M1087,127L1110,183M1087,127L1129,83M1096,129L1118,182M1096,129L1136,87M1105,130L1126,180M1105,130L1142,91M1114,132L1134,179M1114,132L1149,95M1123,134L1141,177M1123,134L1155,100M1132,135L1149,174M1132,135L1162,104M1141,137L1156,172M1141,137L1168,109M1151,139L1163,169M1151,139L1174,114M1160,140L1171,167M1160,140L1179,120M1169,142L1178,163M1169,142L1185,125M1178,144L1185,160M1178,144L1190,131M1187,145L1192,157M1187,145L1196,136M1196,147L1199,153M1196,147L1201,142"/><path d="M985,249 1020,255 1053,258 1085,258 1116,255 1145,249 1174,241 1201,230 1227,216 1252,199 1277,181 1300,160 1323,138 1345,115 1366,90 1366,90 1334,87 1301,87 1270,87 1239,90 1208,94 1179,100 1151,109 1123,120 1097,135 1073,152 1049,172 1027,195 1005,220 985,249ZM985,249L1366,90M1001,242L1038,257M1001,242L1017,206M1016,236L1063,254M1016,236L1036,190M1031,230L1087,251M1031,230L1055,175M1046,223L1110,248M1046,223L1074,161M1062,217L1132,244M1062,217L1092,148M1077,211L1152,240M1077,211L1109,137M1092,204L1172,235M1092,204L1126,126M1107,198L1190,229M1107,198L1143,117M1123,192L1206,224M1123,192L1159,109M1138,185L1222,217M1138,185L1174,103M1153,179L1236,211M1153,179L1189,97M1168,172L1249,203M1168,172L1203,93M1184,166L1261,196M1184,166L1217,90M1199,160L1272,188M1199,160L1230,88M1214,153L1282,179M1214,153L1243,86M1229,147L1291,171M1229,147L1256,86M1245,141L1300,162M1245,141L1268,86M1260,134L1307,152M1260,134L1280,88M1275,128L1314,143M1275,128L1292,89M1290,121L1321,133M1290,121L1303,92M1305,115L1327,123M1305,115L1315,94M1321,109L1332,113M1321,109L1326,98"/><path d="M-215,130 -225,155 -231,179 -235,202 -237,225 -236,246 -233,268 -227,288 -219,307 -208,326 -196,345 -182,363 -166,380 -150,397 -132,414 -132,414 -125,390 -121,367 -117,344 -115,321 -115,299 -116,277 -120,256 -126,236 -135,216 -146,198 -160,180 -176,162 -194,146 -215,130ZM-215,130L-132,414M-212,143L-228,174M-212,143L-181,160M-208,156L-229,195M-208,156L-169,178M-204,169L-229,216M-204,169L-157,195M-200,182L-229,235M-200,182L-147,211M-196,195L-228,253M-196,195L-138,227M-193,207L-226,270M-193,207L-131,242M-189,220L-223,285M-189,220L-124,256M-185,233L-220,300M-185,233L-119,270M-181,246L-217,313M-181,246L-115,283M-177,259L-212,324M-177,259L-113,295M-174,272L-207,335M-174,272L-111,307M-170,285L-201,344M-170,285L-111,318M-166,298L-195,353M-166,298L-111,328M-162,311L-189,360M-162,311L-113,338M-158,324L-181,367M-158,324L-115,348M-154,337L-174,373M-154,337L-118,357M-151,350L-166,378M-151,350L-122,365M-147,362L-158,383M-147,362L-126,374M-143,375L-150,388M-143,375L-131,382"/><path d="M-123,205 -112,239 -99,267 -84,294 -68,317 -49,336 -29,353 -6,367 18,377 44,384 71,389 99,392 129,393 159,393 191,390 191,390 178,362 163,335 148,310 132,286 114,265 95,246 74,229 52,216 27,207 1,200 -27,197 -57,196 -89,199 -123,205ZM-123,205L191,390M-111,213L-98,259M-111,213L-65,201M-99,220L-83,277M-99,220L-41,205M-87,227L-68,295M-87,227L-18,210M-75,234L-54,311M-75,234L3,215M-63,241L-39,326M-63,241L23,220M-50,248L-26,340M-50,248L42,225M-38,255L-12,352M-38,255L59,231M-26,262L1,363M-26,262L75,237M-14,269L14,373M-14,269L89,244M-2,277L26,380M-2,277L102,251M10,284L38,387M10,284L114,258M22,291L49,392M22,291L124,266M34,298L61,396M34,298L133,274M46,305L72,399M46,305L141,282M58,312L82,400M58,312L147,290M70,319L92,401M70,319L152,299M82,326L102,400M82,326L157,308M94,334L112,399M94,334L160,317M107,341L122,397M107,341L163,327M119,348L131,394M119,348L165,336M131,355L140,390M131,355L166,346M143,362L149,386M143,362L167,356M155,369L158,382M155,369L167,366"/><path d="M147,488 169,469 187,449 203,428 216,406 227,384 236,362 242,338 245,315 247,290 246,265 244,240 240,214 235,188 229,162 229,162 211,182 195,203 180,224 166,245 153,267 143,289 135,312 129,335 126,359 125,384 127,409 131,435 138,461 147,488ZM147,488L229,162M150,477L177,462M150,477L134,451M153,466L186,447M153,466L132,433M156,454L195,432M156,454L132,416M159,443L203,418M159,443L131,400M161,432L211,404M161,432L131,384M164,421L217,390M164,421L132,369M167,409L223,377M167,409L133,354M170,398L229,364M170,398L134,341M173,387L234,352M173,387L135,327M176,376L238,340M176,376L137,315M178,364L241,329M178,364L140,303M181,353L244,317M181,353L143,292M184,342L246,307M184,342L146,282M187,331L247,296M187,331L150,272M190,319L248,286M190,319L154,263M192,308L248,276M192,308L158,254M195,297L248,267M195,297L163,246M198,286L247,258M198,286L168,238M201,274L245,249M201,274L174,231M204,263L244,240M204,263L179,224M207,252L241,232M207,252L185,218M209,241L239,224M209,241L191,212M212,229L236,216M212,229L198,206M215,218L233,208M215,218L204,201M218,207L230,200M218,207L211,195M221,196L226,193M221,196L218,191"/><path d="M393,450 414,423 429,397 441,372 450,347 454,323 455,299 452,276 444,254 434,232 420,211 403,190 385,170 364,149 342,130 342,130 326,155 313,181 302,206 293,231 286,256 283,280 283,303 287,326 295,348 306,370 322,391 342,411 365,431 393,450ZM393,450L342,130M391,439L422,415M391,439L354,426M389,429L427,399M389,429L344,412M388,419L432,383M388,419L335,399M386,408L436,369M386,408L326,386M384,398L440,354M384,398L318,373M383,388L443,340M383,388L311,361M381,377L445,327M381,377L305,349M380,367L446,314M380,367L299,337M378,357L447,302M378,357L295,326M376,346L447,290M376,346L291,315M375,336L447,279M375,336L288,304M373,326L445,268M373,326L286,294M371,315L444,258M371,315L285,283M370,305L441,248M370,305L284,273M368,295L438,239M368,295L285,264M366,284L434,231M366,284L286,254M365,274L429,223M365,274L287,245M363,264L424,215M363,264L290,237M361,253L419,208M361,253L293,228M360,243L413,201M360,243L296,220M358,233L406,195M358,233L301,211M356,222L399,188M356,222L305,203M355,212L392,183M355,212L310,196M353,202L384,177M353,202L316,188M351,191L376,172M351,191L322,180M350,181L368,166M350,181L328,173M348,171L360,162M348,171L334,166M347,160L351,157M347,160L341,159"/><path d="M355,513 382,496 406,477 427,457 447,436 465,413 480,390 493,365 504,340 513,313 520,285 525,257 530,228 533,198 535,168 535,168 511,187 489,207 468,227 448,248 429,269 412,292 397,316 385,340 374,366 366,393 360,421 356,451 354,481 355,513ZM355,513L535,168M363,499L392,491M363,499L352,470M370,484L408,475M370,484L356,448M378,470L422,459M378,470L361,427M385,455L436,443M385,455L366,407M393,441L449,428M393,441L372,388M400,427L460,412M400,427L378,369M408,412L471,397M408,412L384,352M415,398L480,382M415,398L391,336M423,384L488,368M423,384L398,321M430,369L496,353M430,369L406,306M438,355L502,339M438,355L414,293M445,340L507,325M445,340L422,281M453,326L512,312M453,326L431,269M460,312L515,298M460,312L440,259M468,297L518,285M468,297L449,249M475,283L520,272M475,283L458,240M483,269L522,259M483,269L468,231M490,254L522,246M490,254L478,223M498,240L523,234M498,240L488,216M505,226L523,221M505,226L498,208M513,211L522,209M513,211L509,202"/><path d="M487,330 509,341 531,348 552,353 573,357 594,358 614,356 634,353 653,347 672,339 691,330 709,319 727,307 745,294 763,279 763,279 741,272 720,266 699,262 678,258 657,256 636,255 616,257 596,261 577,267 558,275 540,286 522,298 504,313 487,330ZM487,330L763,279M501,328L522,346M501,328L514,303M515,325L542,349M515,325L532,293M528,323L561,351M528,323L549,284M542,320L579,352M542,320L565,277M556,318L597,353M556,318L581,270M570,315L613,352M570,315L597,265M584,313L628,351M584,313L611,261M597,310L642,349M597,310L625,258M611,307L655,345M611,307L639,256M625,305L667,341M625,305L651,256M639,302L678,337M639,302L663,256M653,300L689,331M653,300L675,258M666,297L698,325M666,297L686,260M680,295L708,318M680,295L697,263M694,292L716,311M694,292L708,267M708,290L724,303M708,290L718,271M722,287L732,296M722,287L728,275"/><path d="M795,100 779,133 768,165 760,196 756,227 755,257 758,285 765,313 775,340 789,366 805,391 824,416 845,440 867,464 892,487 892,487 903,455 911,424 918,392 923,362 926,332 925,302 922,274 914,246 904,219 889,194 871,169 849,145 825,122 795,100ZM795,100L892,487M798,110L772,138M798,110L833,122M800,121L770,154M800,121L842,135M803,131L768,169M803,131L852,148M805,141L766,185M805,141L861,161M808,152L765,199M808,152L869,173M811,162L763,214M811,162L876,186M813,173L763,228M813,173L884,198M816,183L763,242M816,183L890,210M819,194L763,255M819,194L896,221M821,204L763,267M821,204L902,233M824,215L764,280M824,215L907,244M826,225L766,291M826,225L911,255M829,236L768,303M829,236L915,266M832,246L770,314M832,246L918,277M834,257L773,324M834,257L920,287M837,267L776,334M837,267L922,297M839,278L779,344M839,278L924,307M842,288L783,353M842,288L925,317M845,299L787,361M845,299L925,327M847,309L792,370M847,309L925,336M850,320L797,378M850,320L924,346M853,330L802,385M853,330L923,355M855,341L807,393M855,341L922,364M858,351L813,400M858,351L920,373M860,361L819,406M860,361L918,382M863,372L826,413M863,372L915,390M866,382L832,419M866,382L912,399M868,393L839,425M868,393L909,407M871,403L846,431M871,403L906,416M873,414L853,436M873,414L902,424M876,424L860,442M876,424L898,432M879,435L868,447M879,435L894,440M881,445L875,452M881,445L890,448"/><path d="M832,198 832,227 836,252 842,277 850,299 860,319 872,337 887,353 903,366 922,379 942,389 964,398 987,406 1011,413 1037,419 1037,419 1033,393 1027,369 1021,345 1014,323 1005,302 994,282 981,265 967,249 950,235 930,224 909,214 886,207 860,201 832,198ZM832,198L1037,419M842,210L835,245M842,210L878,205M853,221L843,267M853,221L900,215M864,233L852,288M864,233L920,225M875,245L861,307M875,245L938,236M886,256L871,324M886,256L954,247M896,268L881,339M896,268L968,258M907,280L891,352M907,280L981,269M918,291L902,364M918,291L991,281M929,303L913,373M929,303L1000,293M939,314L925,381M939,314L1007,305M950,326L937,388M950,326L1013,317M961,338L949,393M961,338L1017,330M972,349L962,396M972,349L1020,343M983,361L974,399M983,361L1021,356M993,373L987,401M993,373L1022,369M1004,384L1000,402M1004,384L1022,382M1015,396L1014,402M1015,396L1021,395"/><path d="M940,408 974,410 1007,409 1038,405 1068,399 1096,390 1123,379 1148,365 1172,348 1194,329 1215,308 1236,285 1255,261 1274,235 1292,208 1292,208 1259,210 1228,213 1197,217 1167,223 1138,231 1110,240 1084,252 1059,267 1035,284 1013,303 993,326 974,351 956,378 940,408ZM940,408L1292,208M951,402L982,414M951,402L956,370M962,396L999,411M962,396L968,356M973,390L1017,407M973,390L980,343M984,383L1033,403M984,383L992,331M995,377L1050,399M995,377L1004,319M1006,371L1065,394M1006,371L1016,308M1017,365L1080,390M1017,365L1028,298M1028,358L1094,385M1028,358L1039,288M1039,352L1108,379M1039,352L1051,279M1050,346L1121,374M1050,346L1062,271M1061,340L1133,368M1061,340L1073,263M1072,333L1145,362M1072,333L1084,256M1083,327L1156,356M1083,327L1095,250M1094,321L1166,349M1094,321L1106,244M1105,315L1176,343M1105,315L1117,239M1116,308L1185,336M1116,308L1128,235M1127,302L1193,328M1127,302L1138,232M1138,296L1201,321M1138,296L1149,228M1149,290L1209,313M1149,290L1159,226M1160,283L1216,306M1160,283L1169,224M1171,277L1222,298M1171,277L1180,222M1182,271L1228,289M1182,271L1190,221M1193,265L1234,281M1193,265L1200,221M1204,258L1240,273M1204,258L1210,220M1215,252L1245,264M1215,252L1220,220M1226,246L1250,255M1226,246L1230,220M1237,240L1254,247M1237,240L1240,221M1248,233L1259,238M1248,233L1250,222"/><path d="M-243,398 -220,414 -196,428 -173,439 -150,447 -126,453 -103,456 -79,457 -55,455 -32,451 -8,445 16,437 40,428 64,418 88,406 88,406 64,393 41,381 18,371 -6,362 -29,355 -53,349 -76,347 -100,346 -124,348 -147,353 -171,360 -195,370 -219,382 -243,398ZM-243,398L88,406M-228,398L-214,423M-228,398L-213,374M-213,399L-195,430M-213,399L-194,368M-198,399L-177,436M-198,399L-175,362M-183,399L-159,442M-183,399L-157,358M-168,400L-142,446M-168,400L-139,354M-153,400L-125,450M-153,400L-123,352M-138,400L-109,452M-138,400L-106,350M-123,401L-93,454M-123,401L-91,349M-108,401L-78,454M-108,401L-76,350M-93,401L-64,454M-93,401L-61,351M-78,402L-50,452M-78,402L-47,353M-63,402L-36,450M-63,402L-34,356M-48,403L-23,446M-48,403L-21,360M-33,403L-11,443M-33,403L-9,365M-18,403L2,438M-18,403L3,370M-3,404L14,433M-3,404L15,375M12,404L25,427M12,404L26,382M27,404L37,421M27,404L37,388M42,405L48,415M42,405L48,395"/><path d="M251,493 228,472 205,455 181,441 158,430 134,421 109,415 84,412 59,412 34,414 8,418 -18,425 -44,433 -70,442 -96,452 -96,452 -73,469 -49,484 -26,497 -2,509 22,520 46,528 70,533 95,536 120,536 146,533 171,527 198,518 224,507 251,493ZM251,493L-96,452M238,491L217,463M238,491L211,513M225,490L199,455M225,490L192,518M212,488L181,447M212,488L173,521M199,487L164,440M199,487L155,524M187,485L148,434M187,485L137,526M174,484L132,428M174,484L120,528M161,482L117,424M161,482L105,529M148,481L102,420M148,481L89,530M135,479L88,417M135,479L75,529M122,478L75,414M122,478L61,529M109,476L62,413M109,476L49,527M97,475L50,412M97,475L36,525M84,473L38,412M84,473L25,522M71,472L27,413M71,472L14,519M58,470L16,414M58,470L4,515M45,469L6,416M45,469L-5,511M32,467L-4,419M32,467L-14,506M20,466L-13,422M20,466L-22,501M7,464L-22,426M7,464L-30,495M-6,463L-31,430M-6,463L-38,489M-19,461L-39,435M-19,461L-45,483M-32,460L-47,439M-32,460L-51,476M-45,458L-55,445M-45,458L-58,469M-57,457L-63,450M-57,457L-64,462"/><path d="M180,604 200,586 216,566 230,547 241,527 250,506 256,485 259,464 260,443 258,421 254,399 248,376 240,354 232,331 222,308 222,308 205,327 191,347 177,366 166,386 156,406 148,427 142,448 139,469 139,491 142,513 147,535 155,558 166,581 180,604ZM180,604L222,308M182,592L210,574M182,592L159,567M183,579L219,557M183,579L155,548M185,566L228,540M185,566L151,529M187,553L236,523M187,553L148,511M189,540L242,508M189,540L147,494M191,527L248,492M191,527L145,478M192,514L252,478M192,514L145,463M194,501L255,464M194,501L146,449M196,488L258,451M196,488L147,435M198,475L259,438M198,475L149,423M200,462L259,426M200,462L153,411M202,450L258,415M202,450L156,401M203,437L257,404M203,437L161,391M205,424L254,394M205,424L166,382M207,411L251,384M207,411L172,373M209,398L247,375M209,398L178,365M211,385L243,366M211,385L185,358M212,372L238,357M212,372L192,350M214,359L232,348M214,359L200,344M216,346L226,340M216,346L208,338"/><path d="M591,497 568,475 545,458 522,444 499,432 476,424 452,420 429,419 405,421 381,427 357,434 333,445 309,457 285,470 261,485 261,485 284,503 307,518 330,531 353,543 377,553 400,560 423,563 447,564 471,561 495,555 519,546 543,533 567,517 591,497ZM591,497L261,485M579,497L553,465M579,497L550,526M566,496L533,457M566,496L531,533M553,496L515,449M553,496L511,539M540,495L497,443M540,495L493,545M528,495L479,437M528,495L476,549M515,494L463,432M515,494L459,553M502,494L447,428M502,494L443,556M490,493L433,425M490,493L428,558M477,493L419,423M477,493L414,559M464,493L405,422M464,493L401,559M451,492L393,422M451,492L388,558M439,492L381,423M439,492L377,556M426,491L370,425M426,491L366,554M413,491L360,427M413,491L356,551M401,490L351,431M401,490L347,547M388,490L342,435M388,490L338,542M375,489L333,439M375,489L330,537M362,489L325,445M362,489L322,531M350,489L318,451M350,489L315,524M337,488L311,457M337,488L309,517M324,488L304,464M324,488L303,510M312,487L298,471M312,487L297,503M299,487L292,478M299,487L291,495"/><path d="M608,613 624,583 635,554 643,526 647,499 647,474 643,449 636,427 625,405 611,384 593,365 574,346 552,328 528,310 502,294 502,294 492,322 483,351 477,378 472,405 470,431 470,456 474,480 482,503 494,524 509,545 528,564 551,581 577,598 608,613ZM608,613L502,294M603,599L627,550M603,599L555,573M598,584L628,522M598,584L537,552M594,570L629,495M594,570L521,531M589,555L629,471M589,555L506,511M584,540L628,448M584,540L494,493M579,526L626,428M579,526L483,475M574,511L623,409M574,511L474,458M570,497L620,392M570,497L467,443M565,482L615,378M565,482L462,428M560,468L609,365M560,468L459,414M555,453L603,354M555,453L458,402M550,439L595,345M550,439L459,390M546,424L587,337M546,424L461,379M541,410L578,331M541,410L464,369M536,395L569,327M536,395L469,360M531,381L559,323M531,381L475,351M526,366L548,321M526,366L482,343M522,352L537,319M522,352L490,335M517,337L526,318M517,337L498,327"/><path d="M562,300 563,338 568,372 576,404 586,434 599,462 615,486 634,509 656,529 680,547 707,563 735,577 765,590 797,602 830,612 830,612 825,578 818,545 809,513 800,483 788,454 774,428 758,403 738,381 716,361 691,344 663,329 632,317 599,307 562,300ZM562,300L830,612M569,308L560,345M569,308L607,305M575,315L565,360M575,315L621,312M582,323L570,374M582,323L634,319M588,330L576,388M588,330L647,327M595,338L581,401M595,338L659,334M601,346L586,414M601,346L671,341M608,353L592,426M608,353L683,348M614,361L597,438M614,361L694,356M621,368L603,450M621,368L704,363M627,376L609,461M627,376L714,370M634,384L615,471M634,384L723,378M640,391L621,481M640,391L732,385M647,399L627,490M647,399L740,393M654,407L633,499M654,407L748,400M660,414L639,507M660,414L755,408M667,422L646,515M667,422L762,415M673,429L652,523M673,429L768,423M680,437L659,529M680,437L774,431M686,445L666,536M686,445L779,438M693,452L673,542M693,452L784,446M699,460L680,547M699,460L789,454M706,467L687,552M706,467L792,462M712,475L694,557M712,475L796,469M719,483L701,561M719,483L799,477M725,490L709,565M725,490L801,485M732,498L716,568M732,498L804,493M738,505L724,571M738,505L806,501M745,513L731,574M745,513L807,509M751,521L739,576M751,521L808,517M758,528L747,578M758,528L809,525M764,536L755,580M764,536L810,533M771,543L762,582M771,543L811,541M778,551L770,584M778,551L811,549M784,559L778,585M784,559L811,557M791,566L786,586M791,566L811,565M797,574L794,587M797,574L810,573M804,581L802,587M804,581L810,581"/><path d="M809,557 834,542 855,527 872,511 887,494 898,477 906,459 910,440 911,420 909,400 904,379 897,358 889,336 878,314 866,291 866,291 845,307 827,323 810,339 795,355 782,372 772,390 764,408 761,427 760,447 763,468 769,489 779,511 791,533 809,557ZM809,557L866,291M812,541L851,529M812,541L782,514M815,526L867,509M815,526L775,489M819,510L880,490M819,510L771,467M822,494L891,472M822,494L768,446M825,479L900,455M825,479L768,426M829,463L906,438M829,463L769,409M832,447L909,423M832,447L772,393M836,432L911,408M836,432L777,379M839,416L910,393M839,416L784,366M842,401L907,380M842,401L792,355M846,385L902,367M846,385L802,345M849,369L895,354M849,369L813,337M852,354L888,342M852,354L825,329M856,338L879,331M856,338L838,322M859,323L869,319M859,323L852,316"/><path d="M923,495 948,514 971,529 994,540 1017,547 1038,551 1059,551 1078,547 1097,540 1116,529 1134,515 1151,498 1168,480 1184,460 1200,437 1200,437 1177,423 1153,411 1131,401 1108,393 1087,387 1065,384 1045,385 1025,389 1006,397 988,409 971,425 954,444 938,467 923,495ZM923,495L1200,437M934,492L976,519M934,492L962,451M944,490L998,524M944,490L980,438M955,488L1018,528M955,488L998,427M966,486L1038,531M966,486L1014,416M976,484L1056,533M976,484L1029,407M987,481L1072,535M987,481L1044,399M998,479L1088,535M998,479L1058,392M1008,477L1102,535M1008,477L1071,387M1019,475L1114,534M1019,475L1083,382M1030,473L1126,533M1030,473L1094,379M1040,470L1136,530M1040,470L1105,378M1051,468L1145,527M1051,468L1114,377M1062,466L1153,523M1062,466L1123,378M1072,464L1159,518M1072,464L1131,380M1083,462L1165,513M1083,462L1138,382M1094,459L1169,507M1094,459L1144,386M1104,457L1173,500M1104,457L1150,391M1115,455L1175,493M1115,455L1156,396M1126,453L1177,485M1126,453L1160,402M1136,451L1179,477M1136,451L1165,409M1147,448L1180,469M1147,448L1169,417M1158,446L1180,460M1158,446L1173,424M1168,444L1180,451M1168,444L1176,433"/><path d="M1079,271 1075,309 1075,344 1078,377 1084,409 1093,438 1106,466 1121,491 1140,515 1161,537 1185,557 1212,576 1240,594 1269,611 1300,626 1300,626 1300,591 1298,558 1294,525 1289,493 1281,462 1271,433 1259,406 1243,381 1223,357 1201,336 1175,317 1147,300 1115,284 1079,271ZM1079,271L1300,626M1086,282L1072,320M1086,282L1126,286M1092,292L1076,338M1092,292L1141,298M1099,302L1079,356M1099,302L1156,309M1105,313L1083,374M1105,313L1170,320M1112,323L1088,390M1112,323L1183,331M1118,334L1092,407M1118,334L1195,343M1125,344L1097,422M1125,344L1207,354M1131,355L1102,436M1131,355L1218,365M1138,365L1107,450M1138,365L1228,375M1144,376L1113,464M1144,376L1237,386M1151,386L1119,476M1151,386L1246,397M1157,396L1125,488M1157,396L1254,407M1164,407L1131,499M1164,407L1261,418M1170,417L1137,509M1170,417L1267,428M1177,428L1144,518M1177,428L1273,439M1183,438L1151,527M1183,438L1277,449M1190,449L1159,536M1190,449L1281,459M1196,459L1166,543M1196,459L1285,469M1203,470L1174,550M1203,470L1288,479M1209,480L1182,556M1209,480L1290,489M1216,491L1190,562M1216,491L1292,499M1222,501L1198,568M1222,501L1293,509M1229,511L1207,572M1229,511L1293,519M1235,522L1216,577M1235,522L1293,528M1242,532L1224,581M1242,532L1293,538M1248,543L1233,585M1248,543L1292,548M1255,553L1242,588M1255,553L1291,557M1261,564L1251,591M1261,564L1290,567M1268,574L1261,594M1268,574L1289,576M1274,585L1270,596M1274,585L1287,586"/><path d="M-330,551 -311,575 -291,596 -271,612 -250,626 -229,636 -207,643 -185,646 -163,645 -140,641 -117,635 -94,626 -70,615 -46,603 -22,589 -22,589 -42,569 -62,551 -82,535 -103,521 -124,509 -145,500 -167,494 -189,491 -211,492 -234,497 -258,505 -281,517 -306,531 -330,551ZM-330,551L-22,589M-318,552L-297,588M-318,552L-289,523M-305,554L-279,599M-305,554L-269,516M-292,555L-261,609M-292,555L-249,511M-279,557L-244,618M-279,557L-231,507M-266,558L-228,625M-266,558L-213,503M-253,560L-212,632M-253,560L-196,501M-240,562L-197,637M-240,562L-181,499M-228,563L-183,641M-228,563L-166,499M-215,565L-170,643M-215,565L-152,500M-202,566L-157,645M-202,566L-139,501M-189,568L-145,645M-189,568L-128,504M-176,570L-134,644M-176,570L-117,508M-163,571L-123,642M-163,571L-107,513M-150,573L-113,639M-150,573L-98,518M-138,574L-103,635M-138,574L-90,524M-125,576L-94,630M-125,576L-82,531M-112,577L-85,624M-112,577L-75,539M-99,579L-77,618M-99,579L-68,547M-86,581L-69,611M-86,581L-62,556M-73,582L-61,603M-73,582L-56,565M-60,584L-54,595M-60,584L-51,574"/><path d="M-214,512 -198,541 -180,565 -162,587 -142,606 -121,622 -99,636 -75,646 -50,653 -24,658 3,661 30,661 59,660 88,658 117,654 117,654 100,630 81,607 62,586 43,566 23,549 1,533 -21,520 -45,510 -70,503 -96,499 -124,498 -152,500 -182,504 -214,512ZM-214,512L117,654M-199,519L-184,558M-199,519L-161,503M-184,525L-165,575M-184,525L-135,504M-169,532L-146,591M-169,532L-111,507M-153,538L-128,605M-153,538L-88,510M-138,545L-111,618M-138,545L-66,514M-123,551L-94,629M-123,551L-47,518M-108,557L-78,639M-108,557L-28,523M-93,564L-62,647M-93,564L-12,529M-78,570L-47,654M-78,570L3,535M-63,577L-33,659M-63,577L17,542M-48,583L-19,662M-48,583L29,550M-33,590L-5,664M-33,590L40,558M-18,596L8,665M-18,596L50,567M-3,602L20,665M-3,602L58,576M12,609L32,663M12,609L65,586M27,615L44,661M27,615L72,596M42,622L56,658M42,622L78,606M57,628L67,654M57,628L83,617M72,635L78,650M72,635L87,628"/><path d="M180,709 198,691 213,671 226,652 237,632 246,612 252,591 256,569 258,548 258,526 256,504 252,481 247,458 242,435 235,412 235,412 220,431 206,450 193,470 182,490 172,510 164,531 158,551 155,573 153,594 154,617 157,639 162,662 169,685 180,709ZM180,709L235,412M182,698L204,690M182,698L164,683M184,687L212,678M184,687L161,668M186,676L219,665M186,676L159,654M188,665L225,652M188,665L158,640M190,654L231,640M190,654L156,626M192,643L236,628M192,643L156,613M194,632L241,616M194,632L156,600M196,621L245,604M196,621L156,588M198,610L248,593M198,610L157,576M200,599L251,581M200,599L159,564M202,588L253,570M202,588L161,553M204,577L254,560M204,577L163,543M206,566L255,549M206,566L166,533M208,555L255,539M208,555L170,523M210,544L255,528M210,544L174,513M212,533L254,518M212,533L178,504M214,522L253,509M214,522L183,496M216,511L251,499M216,511L188,487M218,500L249,489M218,500L193,479M220,489L247,480M220,489L199,471M222,478L244,470M222,478L205,463M224,467L241,461M224,467L211,456M226,456L238,452M226,456L217,448M228,445L234,443M228,445L224,441"/><path d="M197,483 200,516 205,546 213,575 223,603 235,629 249,653 265,676 284,697 304,716 326,735 350,752 375,768 401,784 428,799 428,799 422,769 415,739 406,711 397,683 386,656 374,631 359,607 343,584 324,563 303,544 279,527 254,511 227,496 197,483ZM197,483L428,799M206,496L198,527M206,496L238,498M215,509L205,548M215,509L255,511M224,521L213,568M224,521L272,524M234,534L220,586M234,534L288,537M243,547L228,604M243,547L302,550M252,559L236,621M252,559L316,563M261,572L245,637M261,572L329,576M271,584L253,652M271,584L340,588M280,597L262,666M280,597L351,601M289,610L272,679M289,610L360,614M298,622L281,691M298,622L369,626M308,635L291,701M308,635L376,639M317,647L301,711M317,647L383,651M326,660L311,721M326,660L388,664M335,673L321,729M335,673L393,676M345,685L332,736M345,685L397,688M354,698L342,743M354,698L401,701M363,711L353,750M363,711L403,713M372,723L364,755M372,723L406,725M382,736L375,761M382,736L407,737M391,748L386,766M391,748L409,749M400,761L398,770M400,761L410,762"/><path d="M620,498 593,487 568,481 545,477 523,476 502,478 483,483 466,492 450,503 436,518 423,535 411,553 400,574 389,596 380,620 380,620 405,626 429,631 452,634 474,636 495,635 515,632 534,626 551,617 567,605 580,590 593,572 603,550 613,526 620,498ZM620,498L380,620M612,502L569,489M612,502L597,545M603,507L550,491M603,507L585,559M594,511L532,492M594,511L573,573M586,515L515,494M586,515L561,585M577,520L499,496M577,520L550,597M569,524L484,498M569,524L540,607M560,529L471,501M560,529L529,617M551,533L458,504M551,533L519,625M543,537L447,508M543,537L510,632M534,542L437,512M534,542L501,638M526,546L428,516M526,546L492,643M517,550L420,520M517,550L484,646M509,555L413,525M509,555L476,649M500,559L407,531M500,559L468,651M491,563L403,536M491,563L461,651M483,568L399,542M483,568L454,651M474,572L396,548M474,572L447,649M466,576L394,554M466,576L441,647M457,581L392,561M457,581L435,645M449,585L392,568M449,585L429,641M440,589L392,575M440,589L423,637M431,594L392,582M431,594L418,632M423,598L393,589M423,598L413,627M414,602L394,596M414,602L407,622M406,607L396,604M406,607L403,616"/><path d="M529,575 537,604 547,629 559,651 572,670 586,685 602,697 620,705 639,710 660,711 682,710 705,707 729,702 753,695 778,686 778,686 768,661 757,638 745,617 732,598 718,581 703,567 687,555 669,548 649,543 628,543 606,546 582,552 556,561 529,575ZM529,575L778,686M542,581L553,628M542,581L584,558M556,587L571,648M556,587L611,557M570,593L587,666M570,593L636,557M584,599L603,682M584,599L658,558M598,605L619,695M598,605L678,561M612,612L633,705M612,612L695,565M626,618L648,712M626,618L711,571M640,624L661,717M640,624L723,578M653,630L674,719M653,630L734,586M667,636L687,719M667,636L742,595M681,643L699,717M681,643L748,605M695,649L710,713M695,649L753,617M709,655L721,708M709,655L756,629M723,661L732,701M723,661L759,641M737,667L743,693M737,667L760,655M751,673L753,683M751,673L760,668"/><path d="M643,457 651,490 661,520 674,549 688,576 703,601 721,624 741,646 763,665 787,683 812,699 839,714 866,728 895,741 924,753 924,753 914,723 902,694 890,666 876,638 861,612 845,588 826,565 806,544 784,525 760,507 734,492 706,479 676,467 643,457ZM643,457L924,753M652,466L645,493M652,466L679,461M661,476L653,508M661,476L694,469M670,485L660,523M670,485L708,477M679,494L668,537M679,494L722,485M687,503L675,551M687,503L736,494M696,513L683,564M696,513L748,502M705,522L691,577M705,522L761,511M714,531L699,589M714,531L772,520M722,541L707,601M722,541L783,528M731,550L715,612M731,550L794,537M740,559L724,622M740,559L804,546M749,568L733,632M749,568L813,555M758,578L741,641M758,578L822,565M766,587L750,650M766,587L830,574M775,596L759,658M775,596L838,584M784,605L769,665M784,605L845,593M793,615L778,672M793,615L851,603M801,624L787,679M801,624L857,613M810,633L797,685M810,633L863,623M819,642L807,691M819,642L868,632M828,652L816,696M828,652L873,643M837,661L826,701M837,661L878,653M845,670L836,706M845,670L882,663M854,679L846,711M854,679L886,673M863,689L856,715M863,689L889,683M872,698L866,719M872,698L893,694M880,707L877,722M880,707L896,704M889,716L887,726M889,716L899,714"/><path d="M972,442 950,454 930,467 913,480 899,495 886,511 876,527 869,545 864,563 861,583 860,603 861,624 863,646 866,668 870,690 870,690 889,677 907,664 923,650 938,635 952,620 963,604 973,587 980,570 985,551 987,531 987,510 984,489 980,466 972,442ZM972,442L870,690M968,452L937,464M968,452L981,482M963,463L924,478M963,463L981,501M959,473L913,491M959,473L980,518M955,483L902,503M955,483L978,534M951,494L893,516M951,494L976,550M946,504L885,528M946,504L974,564M942,514L877,539M942,514L971,578M938,525L871,550M938,525L968,590M934,535L866,561M934,535L964,601M929,545L862,571M929,545L960,611M925,556L859,581M925,556L955,620M921,566L857,590M921,566L950,629M917,576L856,600M917,576L944,636M912,587L856,608M912,587L938,642M908,597L856,617M908,597L931,648M904,607L858,625M904,607L925,653M900,618L860,633M900,618L918,657M895,628L862,641M895,628L910,661M891,638L865,648M891,638L903,664M887,649L869,656M887,649L895,667M883,659L873,663M883,659L887,669"/><path d="M956,584 974,604 993,620 1012,634 1032,645 1051,653 1072,659 1092,661 1113,661 1134,658 1155,653 1177,646 1198,638 1220,628 1242,616 1242,616 1223,600 1204,586 1185,573 1166,561 1146,551 1126,544 1106,539 1086,536 1065,537 1044,541 1022,547 1000,556 978,568 956,584ZM956,584L1242,616M967,585L977,612M967,585L982,561M978,586L990,620M978,586L998,556M989,587L1003,628M989,587L1012,551M1000,589L1016,634M1000,589L1026,548M1011,590L1029,640M1011,590L1040,545M1022,591L1042,645M1022,591L1053,543M1033,592L1054,650M1033,592L1066,541M1044,594L1065,653M1044,594L1078,541M1055,595L1077,656M1055,595L1090,541M1066,596L1088,658M1066,596L1101,542M1077,597L1099,658M1077,597L1112,543M1088,599L1110,659M1088,599L1123,545M1099,600L1120,658M1099,600L1133,548M1110,601L1130,657M1110,601L1142,552M1121,603L1140,655M1121,603L1151,556M1132,604L1150,652M1132,604L1160,561M1143,605L1159,649M1143,605L1168,566M1154,606L1168,645M1154,606L1176,572M1165,608L1177,641M1165,608L1184,578M1176,609L1186,636M1176,609L1192,585M1187,610L1195,631M1187,610L1199,591M1198,611L1203,626M1198,611L1207,599M1209,613L1212,620M1209,613L1213,606"/><path d="M-190,813 -163,823 -138,828 -114,832 -91,832 -69,830 -49,824 -30,816 -12,805 5,792 20,776 35,759 50,740 63,719 76,697 76,697 51,692 27,688 3,685 -20,684 -42,685 -63,688 -83,694 -102,702 -120,714 -136,728 -152,745 -166,765 -179,787 -190,813ZM-190,813L76,697M-181,809L-146,823M-181,809L-167,774M-171,805L-128,823M-171,805L-155,761M-162,801L-111,822M-162,801L-143,749M-153,797L-95,821M-153,797L-131,739M-144,793L-80,819M-144,793L-120,728M-135,789L-66,817M-135,789L-108,719M-126,785L-52,815M-126,785L-98,711M-116,781L-40,813M-116,781L-87,704M-107,777L-28,810M-107,777L-77,697M-98,773L-17,806M-98,773L-67,691M-89,769L-7,803M-89,769L-58,687M-80,765L1,798M-80,765L-49,683M-70,761L10,794M-70,761L-40,680M-61,757L17,789M-61,757L-32,678M-52,753L23,784M-52,753L-23,677M-43,749L29,779M-43,749L-16,676M-34,745L34,773M-34,745L-8,676M-25,741L39,767M-25,741L-1,677M-15,737L42,761M-15,737L7,679M-6,733L45,754M-6,733L13,681M3,729L48,748M3,729L20,683M12,725L50,741M12,725L27,686M21,721L52,734M21,721L33,690M31,717L54,727M31,717L39,694M40,713L55,719M40,713L45,698M49,709L56,712M49,709L51,702"/><path d="M270,758 243,738 215,722 187,709 160,699 132,692 104,687 76,686 48,687 19,692 -9,698 -38,707 -66,717 -95,728 -123,741 -123,741 -96,757 -68,771 -41,783 -13,794 15,803 43,809 71,813 99,814 127,812 155,807 184,799 212,788 241,775 270,758ZM270,758L-123,741M256,757L229,730M256,757L227,782M242,757L208,723M242,757L206,788M228,756L189,716M228,756L185,793M214,755L169,710M214,755L166,797M200,755L151,705M200,755L147,801M186,754L133,700M186,754L128,804M172,754L115,696M172,754L111,806M157,753L99,693M157,753L94,808M143,752L83,691M143,752L78,809M129,752L68,689M129,752L63,809M115,751L54,689M115,751L49,809M101,751L40,688M101,751L35,808M87,750L27,689M87,750L22,806M73,750L15,690M73,750L10,804M59,749L3,692M59,749L-1,801M45,748L-8,694M45,748L-12,798M31,748L-18,698M31,748L-22,794M17,747L-28,701M17,747L-32,789M3,747L-38,705M3,747L-41,784M-11,746L-47,710M-11,746L-50,779M-25,745L-55,714M-25,745L-58,774M-39,745L-64,720M-39,745L-66,768M-53,744L-72,725M-53,744L-73,762M-67,744L-80,731M-67,744L-81,755M-81,743L-87,737M-81,743L-88,748"/><path d="M378,678 344,676 313,677 283,680 255,687 229,696 205,708 183,723 163,740 144,760 127,783 111,807 97,833 83,860 70,888 70,888 102,887 132,884 161,880 189,874 216,866 242,856 266,844 287,828 307,810 325,790 341,766 356,740 368,711 378,678ZM378,678L70,888M369,685L340,669M369,685L373,717M359,691L324,672M359,691L364,731M349,698L308,676M349,698L355,744M340,704L293,679M340,704L346,757M330,711L279,683M330,711L337,769M321,718L265,688M321,718L328,780M311,724L251,692M311,724L319,791M301,731L239,697M301,731L310,801M292,737L227,702M292,737L300,811M282,744L215,708M282,744L291,819M272,750L204,714M272,750L282,827M263,757L194,720M263,757L272,834M253,764L185,727M253,764L262,841M244,770L176,734M244,770L253,847M234,777L167,741M234,777L243,852M224,783L159,748M224,783L233,856M215,790L152,756M215,790L223,860M205,796L145,764M205,796L213,864M195,803L139,773M195,803L203,867M186,810L133,781M186,810L193,869M176,816L128,790M176,816L183,871M166,823L122,799M166,823L172,872M157,829L118,808M157,829L162,873M147,836L113,818M147,836L152,874M138,842L109,827M138,842L141,874M128,849L105,837M128,849L131,874M118,856L102,847M118,856L121,874M109,862L98,857M109,862L110,874"/><path d="M265,545 264,577 267,607 272,636 279,663 288,689 299,714 313,737 329,759 348,780 368,799 389,818 412,835 436,853 461,869 461,869 458,839 454,810 449,781 442,754 434,727 425,701 413,677 399,654 382,632 363,612 342,593 319,576 293,560 265,545ZM265,545L461,869M270,554L262,584M270,554L300,561M275,562L266,598M275,562L311,570M280,570L269,612M280,570L322,580M285,578L273,625M285,578L332,590M290,587L277,638M290,587L342,599M295,595L281,651M295,595L351,608M300,603L285,663M300,603L360,617M305,612L289,675M305,612L368,627M310,620L293,686M310,620L377,636M315,628L298,697M315,628L384,645M320,637L302,707M320,637L391,653M325,645L307,717M325,645L398,662M330,653L312,727M330,653L404,671M335,661L316,736M335,661L410,679M340,670L321,744M340,670L415,687M345,678L326,753M345,678L420,696M350,686L332,760M350,686L425,704M355,695L337,768M355,695L429,712M360,703L342,774M360,703L432,720M365,711L348,781M365,711L436,728M371,720L353,787M371,720L438,736M376,728L359,793M376,728L441,743M381,736L365,798M381,736L443,751M386,744L371,803M386,744L445,758M391,753L377,808M391,753L446,766M396,761L383,812M396,761L447,773M401,769L389,816M401,769L448,780M406,778L395,820M406,778L449,788M411,786L401,824M411,786L449,795M416,794L407,827M416,794L449,802M421,803L414,831M421,803L449,809M426,811L420,834M426,811L449,816M431,819L426,837M431,819L448,823M436,827L433,839M436,827L448,830M441,836L439,842M441,836L447,837"/><path d="M638,620 616,637 597,654 581,672 567,691 556,710 547,731 541,752 538,773 537,796 538,818 540,842 544,866 549,890 556,914 556,914 575,897 591,879 607,860 621,842 634,823 644,803 653,782 658,761 661,740 662,717 660,694 655,670 648,646 638,620ZM638,620L556,914M634,632L607,640M634,632L654,653M631,645L596,654M631,645L656,670M628,657L586,668M628,657L658,688M624,669L577,681M624,669L658,704M621,681L569,695M621,681L658,720M617,694L562,708M617,694L658,735M614,706L556,721M614,706L656,749M611,718L551,734M611,718L654,763M607,730L546,746M607,730L651,775M604,743L543,758M604,743L648,788M600,755L541,770M600,755L644,799M597,767L539,782M597,767L639,810M594,779L539,794M594,779L633,820M590,792L539,805M590,792L627,829M587,804L540,816M587,804L621,838M583,816L542,827M583,816L614,847M580,828L544,838M580,828L606,855M577,841L547,848M577,841L598,863M573,853L550,859M573,853L590,870M570,865L553,869M570,865L582,877M566,877L557,880M566,877L573,884"/><path d="M913,787 892,754 869,726 846,702 821,682 795,665 768,652 740,644 710,639 680,637 649,638 617,642 584,648 551,656 517,666 517,666 539,693 563,718 586,741 611,763 636,781 662,797 689,809 718,817 747,822 778,822 810,819 843,812 877,802 913,787ZM913,787L517,666M902,783L878,742M902,783L859,805M892,780L863,730M892,780L840,806M881,777L848,719M881,777L822,807M871,774L834,709M871,774L804,807M860,771L820,699M860,771L786,808M850,768L806,690M850,768L770,808M840,764L792,681M840,764L754,807M829,761L779,673M829,761L738,806M819,758L766,666M819,758L724,805M808,755L754,659M808,755L710,804M798,752L742,653M798,752L696,802M788,749L730,648M788,749L684,800M777,745L719,643M777,745L672,798M767,742L708,639M767,742L661,795M756,739L698,636M756,739L650,792M746,736L687,633M746,736L640,789M735,733L678,631M735,733L631,785M725,729L668,630M725,729L622,781M715,726L659,629M715,726L614,776M704,723L650,628M704,723L607,772M694,720L642,629M694,720L600,767M683,717L634,629M683,717L593,762M673,714L626,631M673,714L588,756M662,710L618,632M662,710L582,750M652,707L611,635M652,707L577,745M642,704L604,637M642,704L573,738M631,701L597,640M631,701L569,732M621,698L590,644M621,698L565,726M610,695L583,647M610,695L562,719M600,691L577,651M600,691L558,712M590,688L571,655M590,688L556,705M579,685L565,660M579,685L553,698M569,682L559,664M569,682L551,691M558,679L553,670M558,679L549,683"/><path d="M989,715 968,700 947,689 927,680 907,674 888,671 869,671 851,673 833,679 816,687 798,698 782,710 765,724 749,739 733,756 733,756 753,767 773,777 794,785 813,791 833,796 852,798 871,798 889,795 907,789 925,780 941,768 958,753 974,736 989,715ZM989,715L733,756M977,717L955,692M977,717L964,748M964,719L936,686M964,719L947,759M951,721L917,682M951,721L931,769M938,723L900,679M938,723L916,777M925,725L884,677M925,725L901,784M912,727L869,676M912,727L887,790M899,729L855,677M899,729L873,794M887,732L841,678M887,732L860,796M874,734L829,681M874,734L848,797M861,736L818,685M861,736L836,797M848,738L808,690M848,738L825,795M835,740L799,697M835,740L814,792M822,742L790,704M822,742L804,788M810,744L782,711M810,744L793,783M797,746L774,720M797,746L784,778M784,748L768,729M784,748L774,771M771,750L761,738M771,750L765,764M758,752L755,748M758,752L756,757"/><path d="M1162,611 1136,612 1112,615 1089,620 1067,627 1046,635 1027,646 1010,659 994,673 979,690 965,707 952,726 940,747 929,767 918,790 918,790 943,786 966,782 989,777 1011,770 1032,762 1052,753 1071,742 1088,729 1104,715 1119,698 1132,679 1143,658 1154,636 1162,611ZM1162,611L918,790M1155,617L1134,606M1155,617L1159,640M1147,622L1122,610M1147,622L1152,650M1140,628L1110,613M1140,628L1145,660M1132,634L1099,617M1132,634L1138,670M1124,639L1088,620M1124,639L1131,680M1117,645L1077,624M1117,645L1124,689M1109,650L1067,629M1109,650L1117,697M1101,656L1057,633M1101,656L1110,705M1094,661L1048,638M1094,661L1102,712M1086,667L1039,643M1086,667L1095,719M1079,673L1030,648M1079,673L1088,726M1071,678L1022,653M1071,678L1080,732M1063,684L1015,659M1063,684L1072,738M1056,689L1008,665M1056,689L1065,743M1048,695L1001,671M1048,695L1057,747M1040,700L994,677M1040,700L1049,751M1033,706L989,683M1033,706L1041,755M1025,712L983,690M1025,712L1033,759M1018,717L978,697M1018,717L1025,762M1010,723L973,704M1010,723L1017,764M1002,728L968,711M1002,728L1009,766M995,734L964,718M995,734L1000,768M987,740L959,725M987,740L992,770M979,745L956,733M979,745L984,772M972,751L952,740M972,751L976,773M964,756L948,748M964,756L967,774M957,762L945,756M957,762L959,775M949,767L942,764M949,767L950,775"/><path d="M1180,900 1200,875 1216,850 1229,825 1239,799 1246,774 1249,749 1249,724 1247,698 1241,673 1233,648 1222,622 1210,597 1197,572 1181,546 1181,546 1165,572 1152,597 1139,622 1129,647 1120,673 1114,698 1111,723 1112,748 1115,774 1122,799 1131,824 1144,849 1160,875 1180,900ZM1180,900L1181,546M1180,887L1209,860M1180,887L1151,860M1180,873L1216,840M1180,873L1144,840M1180,859L1223,820M1180,859L1137,820M1180,846L1229,802M1180,846L1132,801M1180,832L1234,784M1180,832L1127,783M1180,819L1238,766M1180,819L1123,766M1180,805L1241,750M1180,805L1119,749M1180,791L1244,734M1180,791L1117,734M1180,778L1245,719M1180,778L1116,719M1180,764L1246,705M1180,764L1115,705M1180,750L1245,692M1180,750L1116,691M1180,737L1244,679M1180,737L1117,679M1180,723L1242,667M1180,723L1119,667M1180,710L1240,656M1180,710L1122,656M1181,696L1236,646M1181,696L1125,646M1181,682L1232,636M1181,682L1130,636M1181,669L1227,627M1181,669L1134,627M1181,655L1222,618M1181,655L1140,618M1181,642L1216,610M1181,642L1146,610M1181,628L1210,602M1181,628L1152,602M1181,614L1203,594M1181,614L1159,594M1181,601L1196,587M1181,601L1166,587M1181,587L1189,580M1181,587L1173,580"/><path d="M-214,763 -221,796 -224,826 -224,853 -221,879 -215,902 -205,922 -192,940 -176,956 -157,970 -135,982 -112,992 -86,1001 -59,1009 -30,1015 -30,1015 -27,985 -27,957 -27,930 -30,904 -35,880 -42,858 -52,838 -65,820 -82,804 -102,791 -125,781 -151,772 -181,766 -214,763ZM-214,763L-30,1015M-206,774L-217,824M-206,774L-156,779M-198,786L-212,849M-198,786L-133,791M-189,797L-206,872M-189,797L-112,804M-181,809L-200,894M-181,809L-94,816M-172,820L-194,913M-172,820L-77,828M-164,832L-187,931M-164,832L-62,840M-156,843L-179,947M-156,843L-50,852M-147,855L-171,960M-147,855L-39,864M-139,866L-163,972M-139,866L-31,875M-130,877L-154,981M-130,877L-24,886M-122,889L-145,989M-122,889L-20,897M-114,900L-135,995M-114,900L-17,908M-105,912L-125,999M-105,912L-16,919M-97,923L-115,1002M-97,923L-16,930M-89,935L-104,1004M-89,935L-18,941M-80,946L-93,1004M-80,946L-21,951M-72,958L-82,1004M-72,958L-25,962M-63,969L-71,1002M-63,969L-30,972M-55,981L-59,1000M-55,981L-35,982"/><path d="M-25,1134 -7,1103 7,1073 17,1043 25,1013 29,984 30,955 27,926 21,898 12,870 0,842 -14,815 -30,787 -47,760 -66,733 -66,733 -80,764 -91,794 -101,823 -109,853 -115,883 -118,912 -118,941 -115,970 -108,998 -98,1026 -85,1053 -69,1080 -49,1107 -25,1134ZM-25,1134L-66,733M-27,1119L2,1099M-27,1119L-59,1105M-28,1104L7,1079M-28,1104L-68,1087M-30,1089L12,1060M-30,1089L-77,1069M-31,1074L16,1041M-31,1074L-84,1051M-33,1060L19,1022M-33,1060L-91,1034M-34,1045L22,1005M-34,1045L-97,1017M-36,1030L24,987M-36,1030L-103,1000M-37,1015L25,971M-37,1015L-107,984M-39,1000L25,955M-39,1000L-110,969M-40,985L24,939M-40,985L-113,953M-42,971L23,925M-42,971L-114,939M-43,956L20,910M-43,956L-115,924M-45,941L17,897M-45,941L-115,910M-46,926L13,883M-46,926L-114,896M-48,911L9,871M-48,911L-112,883M-49,896L4,858M-49,896L-109,870M-51,882L-2,847M-51,882L-106,857M-52,867L-8,835M-52,867L-102,845M-54,852L-15,824M-54,852L-98,833M-55,837L-22,813M-55,837L-93,821M-57,822L-30,803M-57,822L-87,809M-58,807L-38,793M-58,807L-82,797M-60,793L-46,783M-60,793L-76,786M-61,778L-55,773M-61,778L-69,774"/><path d="M71,1075 105,1061 134,1044 160,1026 184,1007 203,985 220,962 233,937 243,911 250,883 255,853 257,823 257,791 256,759 253,726 253,726 224,742 197,760 172,779 148,798 127,818 108,840 92,864 79,889 69,915 63,944 60,974 61,1006 64,1039 71,1075ZM71,1075L253,726M78,1063L121,1049M78,1063L64,1019M84,1052L138,1034M84,1052L67,998M90,1040L153,1020M90,1040L70,977M96,1028L167,1005M96,1028L74,957M102,1017L181,991M102,1017L77,937M108,1005L193,978M108,1005L81,919M114,994L205,964M114,994L86,902M120,982L215,951M120,982L91,886M126,970L225,939M126,970L96,871M132,959L233,926M132,959L101,857M138,947L240,914M138,947L107,845M144,935L246,902M144,935L113,833M150,924L252,891M150,924L119,822M156,912L256,880M156,912L126,812M162,900L259,869M162,900L132,803M168,889L261,859M168,889L140,795M174,877L263,849M174,877L147,788M181,866L264,839M181,866L155,782M187,854L263,829M187,854L163,777M193,842L263,820M193,842L171,772M199,831L261,810M199,831L179,768M205,819L259,801M205,819L188,764M211,807L257,793M211,807L197,761M217,796L254,784M217,796L205,759M223,784L251,775M223,784L214,756M229,772L247,767M229,772L224,755M235,761L242,758M235,761L233,753"/><path d="M239,809 242,835 248,858 256,880 265,900 275,919 288,937 302,952 317,967 335,980 353,991 373,1002 394,1012 415,1021 438,1029 438,1029 432,1006 425,984 417,962 408,942 399,922 388,903 375,886 361,871 345,857 327,844 307,833 286,823 264,815 239,809ZM239,809L438,1029M247,818L239,841M247,818L270,813M255,827L245,855M255,827L284,820M263,836L251,869M263,836L297,827M271,844L257,883M271,844L310,835M279,853L264,895M279,853L322,843M287,862L271,907M287,862L333,851M295,871L278,918M295,871L344,859M302,880L285,929M302,880L353,868M310,888L293,939M310,888L362,876M318,897L301,948M318,897L370,885M326,906L309,956M326,906L378,894M334,915L318,963M334,915L384,903M342,924L326,970M342,924L390,912M350,933L335,977M350,933L396,922M358,941L344,982M358,941L400,931M366,950L353,987M366,950L404,941M374,959L363,992M374,959L408,951M382,968L372,996M382,968L411,961M390,977L382,1000M390,977L414,971M398,985L392,1004M398,985L417,981M406,994L402,1007M406,994L419,991M414,1003L412,1010M414,1003L421,1001"/><path d="M590,1069 598,1037 602,1007 604,978 602,950 598,923 590,899 580,875 566,853 549,832 531,813 510,794 487,776 463,759 438,742 438,742 433,773 431,802 431,831 431,859 434,886 440,912 448,937 459,960 473,982 490,1002 510,1021 534,1039 560,1055 590,1069ZM590,1069L438,742M584,1058L605,1032M584,1058L551,1057M579,1047L605,1015M579,1047L538,1046M574,1035L604,998M574,1035L526,1034M569,1024L603,982M569,1024L514,1023M563,1013L601,966M563,1013L503,1012M558,1002L599,951M558,1002L493,1000M553,990L596,937M553,990L484,989M548,979L593,923M548,979L476,978M542,968L589,910M542,968L468,966M537,957L585,897M537,957L461,955M532,945L580,886M532,945L455,944M527,934L575,875M527,934L450,932M521,923L569,864M521,923L446,921M516,911L562,854M516,911L443,910M511,900L556,845M511,900L440,899M506,889L548,836M506,889L438,888M500,878L541,828M500,878L437,876M495,866L533,820M495,866L436,865M490,855L524,813M490,855L436,854M485,844L515,806M485,844L436,843M479,833L506,799M479,833L437,832M474,821L497,793M474,821L438,821M469,810L487,787M469,810L440,809M464,799L478,782M464,799L442,798M459,788L468,776M459,788L444,787M453,776L457,771M453,776L447,776"/><path d="M762,1068 765,1037 766,1008 763,980 759,955 751,930 741,908 728,887 712,869 694,851 674,835 652,821 629,807 604,793 578,781 578,781 578,810 579,838 582,865 587,891 593,916 601,940 612,962 625,983 641,1001 660,1018 681,1033 705,1047 732,1059 762,1068ZM762,1068L578,781M756,1060L766,1025M756,1060L720,1054M751,1052L762,1009M751,1052L707,1044M746,1044L759,994M746,1044L695,1035M741,1035L755,979M741,1035L683,1025M735,1027L752,965M735,1027L672,1016M730,1019L748,952M730,1019L662,1007M725,1011L744,939M725,1011L652,998M720,1003L740,927M720,1003L642,989M714,994L735,915M714,994L634,980M709,986L731,904M709,986L626,972M704,978L726,894M704,978L619,963M699,970L721,885M699,970L612,955M693,962L716,876M693,962L606,946M688,953L711,868M688,953L601,938M683,945L705,860M683,945L596,930M678,937L700,853M678,937L592,922M672,929L694,846M672,929L588,914M667,921L688,841M667,921L586,906M662,913L682,835M662,913L583,899M657,904L676,831M657,904L582,891M651,896L670,826M651,896L580,884M646,888L663,823M646,888L580,876M641,880L657,819M641,880L579,869M636,872L650,816M636,872L579,862M630,863L643,814M630,863L580,854M625,855L637,811M625,855L580,847M620,847L630,809M620,847L582,840M615,839L623,808M615,839L583,833M609,831L616,806M609,831L585,826M604,822L609,805M604,822L586,819M599,814L602,804M599,814L589,812"/><path d="M733,712 718,739 707,765 699,790 694,813 693,836 696,858 701,879 711,899 723,918 738,936 755,953 774,970 794,987 817,1003 817,1003 828,977 836,952 844,928 849,904 852,880 852,858 849,836 843,815 833,796 820,777 803,759 784,743 761,727 733,712ZM733,712L817,1003M737,726L714,770M737,726L780,751M741,740L712,797M741,740L796,773M745,754L710,822M745,754L811,793M749,767L710,845M749,767L824,812M753,781L710,866M753,781L835,830M757,795L711,885M757,795L844,846M761,809L714,902M761,809L851,862M765,823L717,917M765,823L856,877M769,837L721,930M769,837L860,890M773,851L726,942M773,851L861,903M777,864L733,951M777,864L861,914M781,878L740,959M781,878L859,924M785,892L748,965M785,892L856,934M789,906L756,970M789,906L852,943M793,920L765,974M793,920L846,951M797,934L775,977M797,934L839,958M801,947L785,979M801,947L832,966M805,961L795,980M805,961L824,972M809,975L807,980M809,975L814,978"/><path d="M941,1056 966,1034 985,1012 1002,990 1015,967 1025,944 1031,920 1034,896 1033,872 1030,847 1023,823 1014,797 1004,772 992,747 977,721 977,721 958,743 941,765 925,788 911,811 899,833 891,857 885,880 882,904 884,929 888,953 896,978 908,1004 922,1029 941,1056ZM941,1056L977,721M943,1042L977,1018M943,1042L914,1011M944,1029L988,999M944,1029L908,990M946,1015L997,980M946,1015L903,970M947,1002L1006,961M947,1002L899,950M949,989L1013,944M949,989L895,931M950,975L1019,927M950,975L893,914M952,962L1024,911M952,962L891,897M953,949L1028,896M953,949L890,881M954,935L1031,882M954,935L891,867M956,922L1033,868M956,922L892,853M957,908L1033,855M957,908L894,840M959,895L1033,843M959,895L897,829M960,882L1031,832M960,882L901,818M962,868L1029,821M962,868L906,808M963,855L1026,811M963,855L911,799M964,841L1021,802M964,841L917,791M966,828L1016,793M966,828L924,783M967,815L1011,784M967,815L931,776M969,801L1005,776M969,801L939,769M970,788L998,768M970,788L947,763M972,774L991,761M972,774L956,757M973,761L983,754M973,761L964,752"/><path d="M1128,723 1100,736 1076,750 1055,765 1037,782 1023,800 1012,819 1005,839 1001,860 1000,883 1001,906 1005,930 1011,955 1018,980 1027,1006 1027,1006 1051,992 1073,977 1093,961 1111,945 1127,928 1140,910 1151,891 1158,870 1161,849 1161,826 1158,802 1152,777 1142,751 1128,723ZM1128,723L1027,1006M1124,735L1087,740M1124,735L1150,762M1119,748L1072,753M1119,748L1153,782M1115,760L1059,767M1115,760L1154,801M1111,772L1047,780M1111,772L1155,819M1106,785L1036,793M1106,785L1155,835M1102,797L1027,806M1102,797L1154,851M1097,809L1019,819M1097,809L1152,866M1093,822L1013,831M1093,822L1149,880M1089,834L1008,844M1089,834L1145,893M1084,846L1004,856M1084,846L1141,904M1080,859L1002,868M1080,859L1135,915M1076,871L1001,880M1076,871L1128,925M1071,883L1001,892M1071,883L1120,934M1067,896L1002,903M1067,896L1112,942M1062,908L1004,915M1062,908L1103,950M1058,920L1008,926M1058,920L1093,957M1054,932L1012,938M1054,932L1083,963M1049,945L1016,949M1049,945L1072,969M1045,957L1021,960M1045,957L1061,974M1040,969L1027,971M1040,969L1050,979"/><path d="M-41,1191 -34,1158 -30,1126 -29,1097 -31,1068 -37,1042 -45,1016 -57,993 -71,971 -89,950 -109,931 -131,913 -154,895 -180,879 -207,863 -207,863 -210,894 -212,924 -212,953 -210,982 -206,1010 -200,1036 -191,1061 -179,1084 -164,1106 -146,1126 -124,1145 -100,1162 -73,1177 -41,1191ZM-41,1191L-207,863M-46,1181L-30,1147M-46,1181L-83,1173M-51,1171L-32,1129M-51,1171L-97,1162M-56,1161L-34,1112M-56,1161L-109,1150M-61,1151L-36,1096M-61,1151L-121,1139M-66,1141L-38,1080M-66,1141L-132,1128M-71,1131L-41,1065M-71,1131L-143,1117M-76,1121L-44,1051M-76,1121L-153,1106M-81,1111L-47,1037M-81,1111L-162,1095M-86,1101L-50,1024M-86,1101L-170,1084M-91,1092L-54,1012M-91,1092L-177,1074M-96,1082L-59,1000M-96,1082L-184,1063M-101,1072L-63,989M-101,1072L-190,1053M-106,1062L-68,979M-106,1062L-195,1043M-111,1052L-73,970M-111,1052L-200,1033M-116,1042L-79,961M-116,1042L-204,1024M-121,1032L-85,953M-121,1032L-207,1014M-126,1022L-91,945M-126,1022L-209,1005M-131,1012L-97,938M-131,1012L-211,996M-136,1002L-104,932M-136,1002L-212,986M-141,992L-111,926M-141,992L-213,977M-146,982L-118,921M-146,982L-213,968M-151,972L-125,916M-151,972L-212,960M-157,962L-133,911M-157,962L-212,951M-162,952L-141,907M-162,952L-210,942M-167,942L-148,903M-167,942L-209,934M-172,932L-156,900M-172,932L-207,925M-177,922L-165,897M-177,922L-204,917M-182,913L-173,894M-182,913L-202,908M-187,903L-181,891M-187,903L-199,900"/><path d="M33,914 16,941 4,966 -4,989 -10,1012 -11,1034 -9,1054 -3,1073 7,1091 20,1107 36,1123 54,1138 74,1152 96,1166 120,1179 120,1179 132,1154 141,1130 149,1107 155,1084 158,1062 158,1041 156,1021 149,1002 139,984 125,968 107,952 86,938 62,926 33,914ZM33,914L120,1179M38,930L13,981M38,930L89,957M43,945L10,1013M43,945L110,980M48,961L9,1042M48,961L128,1003M53,977L10,1068M53,977L143,1024M58,992L11,1090M58,992L155,1043M64,1008L15,1109M64,1008L163,1060M69,1023L20,1125M69,1023L169,1076M74,1039L26,1138M74,1039L171,1090M79,1054L34,1148M79,1054L171,1103M84,1070L43,1155M84,1070L168,1114M89,1086L54,1160M89,1086L162,1124M94,1101L65,1162M94,1101L155,1133M100,1117L77,1163M100,1117L145,1141M105,1132L90,1163M105,1132L135,1148M110,1148L104,1161M110,1148L123,1155"/><path d="M378,985 343,970 310,960 279,953 248,950 219,951 191,955 165,964 139,976 115,992 92,1010 69,1032 48,1055 26,1080 6,1107 6,1107 39,1117 70,1124 102,1130 132,1134 162,1135 191,1133 219,1128 245,1119 270,1106 294,1089 317,1069 338,1045 359,1017 378,985ZM378,985L6,1107M367,988L337,963M367,988L358,1027M356,992L320,961M356,992L345,1038M346,995L303,959M346,995L333,1049M335,999L287,958M335,999L321,1060M324,1002L272,958M324,1002L309,1069M314,1006L257,957M314,1006L297,1079M303,1009L242,958M303,1009L285,1087M293,1013L228,958M293,1013L273,1095M282,1016L215,959M282,1016L262,1102M271,1020L202,961M271,1020L250,1108M261,1023L190,963M261,1023L239,1114M250,1027L178,965M250,1027L228,1119M240,1030L167,968M240,1030L218,1123M229,1034L156,972M229,1034L207,1127M218,1037L146,976M218,1037L196,1130M208,1041L136,980M208,1041L186,1132M197,1044L127,985M197,1044L176,1133M186,1048L119,990M186,1048L166,1134M176,1051L110,996M176,1051L156,1135M165,1055L103,1002M165,1055L146,1134M155,1058L95,1008M155,1058L137,1134M144,1062L89,1015M144,1062L127,1132M133,1065L82,1022M133,1065L118,1131M123,1069L76,1029M123,1069L109,1128M112,1072L70,1036M112,1072L99,1126M102,1076L64,1044M102,1076L90,1123M91,1079L59,1052M91,1079L81,1120M80,1083L54,1060M80,1083L72,1116M70,1086L49,1069M70,1086L63,1112M59,1090L44,1077M59,1090L55,1108M48,1093L40,1086M48,1093L46,1104"/><path d="M619,1048 596,1028 573,1012 550,999 526,987 502,978 478,972 453,968 427,966 402,967 376,970 350,974 323,980 297,986 270,994 270,994 293,1010 316,1025 340,1038 364,1050 388,1060 412,1068 436,1074 461,1078 487,1079 512,1078 539,1074 565,1068 592,1059 619,1048ZM619,1048L270,994M603,1045L594,1020M603,1045L586,1067M587,1043L575,1010M587,1043L566,1070M571,1040L557,1002M571,1040L546,1073M556,1038L539,994M556,1038L527,1075M540,1036L521,988M540,1036L508,1076M524,1033L504,982M524,1033L490,1076M508,1031L488,977M508,1031L473,1076M492,1028L471,974M492,1028L456,1074M476,1026L456,971M476,1026L440,1072M460,1023L440,970M460,1023L425,1068M445,1021L425,970M445,1021L410,1064M429,1019L410,970M429,1019L396,1060M413,1016L396,971M413,1016L383,1054M397,1014L381,973M397,1014L370,1048M381,1011L368,976M381,1011L358,1041M365,1009L354,979M365,1009L345,1034M349,1007L340,983M349,1007L334,1026M334,1004L327,987M334,1004L322,1018M318,1002L314,992M318,1002L311,1010"/><path d="M569,851 550,882 536,913 525,943 518,973 514,1002 514,1031 517,1060 523,1088 533,1116 545,1143 560,1170 577,1197 595,1224 615,1250 615,1250 629,1220 641,1190 651,1160 659,1130 664,1100 667,1071 667,1042 664,1014 657,985 646,958 632,931 614,904 594,877 569,851ZM569,851L615,1250M570,867L542,895M570,867L605,887M572,882L536,917M572,882L615,908M574,897L531,939M574,897L625,928M576,913L528,960M576,913L634,948M578,928L524,980M578,928L641,967M579,943L522,1000M579,943L648,985M581,959L521,1018M581,959L654,1002M583,974L520,1036M583,974L658,1019M585,989L521,1052M585,989L662,1036M587,1005L522,1068M587,1005L664,1052M588,1020L524,1083M588,1020L666,1067M590,1036L527,1098M590,1036L666,1081M592,1051L531,1111M592,1051L665,1095M594,1066L535,1124M594,1066L664,1108M596,1082L541,1135M596,1082L662,1121M597,1097L547,1147M597,1097L658,1134M599,1112L553,1157M599,1112L654,1146M601,1128L560,1168M601,1128L650,1157M603,1143L568,1177M603,1143L645,1168M605,1158L576,1186M605,1158L639,1179M606,1174L584,1195M606,1174L633,1190M608,1189L593,1204M608,1189L626,1200M610,1204L602,1212M610,1204L619,1210"/><path d="M727,840 701,857 679,875 659,894 643,914 629,935 618,956 610,979 605,1003 602,1028 602,1053 604,1079 607,1106 612,1133 618,1161 618,1161 640,1143 660,1124 679,1105 696,1085 711,1065 724,1043 735,1021 742,999 747,975 749,950 748,924 744,897 737,869 727,840ZM727,840L618,1161M723,850L693,858M723,850L742,875M720,859L683,870M720,859L743,890M717,869L674,881M717,869L744,905M714,879L665,893M714,879L744,920M710,889L656,904M710,889L744,934M707,898L649,915M707,898L743,947M704,908L641,926M704,908L742,960M700,918L635,936M700,918L741,972M697,927L629,947M697,927L740,984M694,937L624,957M694,937L738,996M691,947L619,967M691,947L735,1007M687,957L615,977M687,957L732,1017M684,966L611,987M684,966L729,1027M681,976L608,997M681,976L726,1036M677,986L606,1006M677,986L722,1045M674,995L604,1015M674,995L717,1054M671,1005L603,1025M671,1005L713,1062M668,1015L602,1034M668,1015L708,1069M664,1025L602,1042M664,1025L703,1076M661,1034L603,1051M661,1034L697,1083M658,1044L603,1060M658,1044L691,1089M654,1054L605,1068M654,1054L685,1095M651,1064L606,1076M651,1064L679,1101M648,1073L608,1085M648,1073L673,1107M645,1083L610,1093M645,1083L666,1112M641,1093L613,1101M641,1093L659,1117M638,1102L615,1109M638,1102L652,1121M635,1112L618,1117M635,1112L645,1126M631,1122L621,1125M631,1122L638,1130"/><path d="M792,1194 821,1191 846,1184 869,1176 888,1166 904,1155 917,1141 927,1125 935,1108 939,1089 941,1068 941,1046 939,1023 936,999 931,974 931,974 906,980 883,988 862,996 842,1006 824,1016 808,1029 796,1043 786,1059 779,1076 776,1096 776,1118 778,1141 783,1167 792,1194ZM792,1194L931,974M798,1186L843,1175M798,1186L788,1140M803,1177L860,1163M803,1177L791,1120M808,1169L876,1152M808,1169L794,1101M814,1160L890,1142M814,1160L797,1083M819,1152L903,1131M819,1152L801,1067M824,1143L915,1121M824,1143L805,1052M830,1135L925,1111M830,1135L809,1038M835,1126L934,1102M835,1126L814,1026M840,1118L942,1093M840,1118L819,1016M846,1109L948,1084M846,1109L824,1006M851,1101L953,1076M851,1101L829,998M856,1093L956,1068M856,1093L835,992M862,1084L959,1060M862,1084L841,986M867,1076L959,1053M867,1076L847,982M872,1067L959,1046M872,1067L854,979M878,1059L958,1039M878,1059L860,978M883,1050L956,1032M883,1050L867,977M888,1042L953,1026M888,1042L874,977M894,1033L949,1019M894,1033L882,977M899,1025L944,1013M899,1025L889,979M904,1016L939,1008M904,1016L897,981M909,1008L933,1002M909,1008L904,984M915,999L927,996M915,999L912,987"/><path d="M1181,995 1153,994 1127,996 1102,1001 1079,1007 1058,1016 1039,1028 1022,1041 1007,1057 993,1075 981,1094 969,1115 959,1138 950,1161 942,1186 942,1186 968,1183 992,1179 1016,1174 1039,1168 1061,1160 1082,1151 1100,1139 1117,1125 1133,1109 1146,1091 1157,1070 1167,1047 1175,1023 1181,995ZM1181,995L942,1186M1168,1005L1132,997M1168,1005L1168,1042M1156,1015L1108,1005M1156,1015L1155,1064M1143,1025L1086,1013M1143,1025L1142,1083M1131,1035L1066,1022M1131,1035L1129,1101M1118,1045L1048,1031M1118,1045L1116,1117M1105,1055L1032,1040M1105,1055L1104,1130M1093,1065L1017,1050M1093,1065L1091,1142M1080,1075L1005,1060M1080,1075L1078,1152M1068,1085L994,1070M1068,1085L1066,1160M1055,1095L985,1081M1055,1095L1053,1166M1042,1105L978,1092M1042,1105L1041,1171M1030,1115L973,1104M1030,1115L1028,1174M1017,1125L968,1115M1017,1125L1016,1175M1005,1135L965,1127M1005,1135L1004,1176M992,1145L962,1139M992,1145L991,1176M979,1155L961,1152M979,1155L979,1174M967,1166L960,1164M967,1166L967,1172"/><path d="M1064,952 1073,977 1083,999 1095,1019 1108,1038 1123,1055 1139,1070 1156,1083 1175,1094 1195,1104 1216,1112 1238,1119 1261,1125 1284,1130 1308,1133 1308,1133 1297,1111 1286,1091 1274,1071 1261,1051 1247,1034 1232,1017 1216,1003 1198,990 1179,979 1159,970 1137,963 1114,957 1090,953 1064,952ZM1064,952L1308,1133M1076,961L1075,988M1076,961L1102,952M1088,970L1086,1005M1088,970L1121,958M1101,979L1098,1021M1101,979L1140,965M1113,988L1110,1036M1113,988L1157,972M1125,997L1122,1049M1125,997L1173,980M1137,1007L1134,1061M1137,1007L1188,988M1149,1016L1146,1072M1149,1016L1202,996M1162,1025L1158,1081M1162,1025L1215,1005M1174,1034L1171,1089M1174,1034L1226,1015M1186,1043L1183,1096M1186,1043L1236,1024M1198,1052L1195,1102M1198,1052L1245,1035M1210,1061L1208,1107M1210,1061L1254,1045M1223,1070L1220,1111M1223,1070L1261,1056M1235,1079L1233,1114M1235,1079L1267,1067M1247,1088L1245,1116M1247,1088L1273,1079M1259,1097L1258,1118M1259,1097L1279,1090M1271,1106L1271,1119M1271,1106L1283,1102"/><path d="M-172,1034 -183,1062 -189,1088 -193,1112 -194,1136 -192,1159 -188,1180 -180,1200 -169,1219 -156,1237 -140,1254 -123,1270 -103,1286 -83,1301 -61,1316 -61,1316 -54,1290 -50,1265 -46,1240 -45,1216 -45,1193 -48,1171 -53,1150 -61,1130 -72,1111 -86,1093 -103,1077 -123,1061 -146,1047 -172,1034ZM-172,1034L-61,1316M-168,1045L-183,1084M-168,1045L-130,1063M-164,1056L-183,1104M-164,1056L-116,1078M-159,1067L-182,1124M-159,1067L-104,1093M-155,1078L-181,1142M-155,1078L-92,1107M-151,1088L-180,1160M-151,1088L-81,1121M-146,1099L-177,1176M-146,1099L-71,1134M-142,1110L-175,1191M-142,1110L-63,1147M-138,1121L-172,1205M-138,1121L-56,1159M-134,1132L-168,1218M-134,1132L-49,1171M-129,1142L-164,1229M-129,1142L-44,1182M-125,1153L-160,1240M-125,1153L-41,1192M-121,1164L-155,1249M-121,1164L-38,1202M-116,1175L-149,1257M-116,1175L-36,1212M-112,1186L-144,1264M-112,1186L-35,1221M-108,1197L-138,1270M-108,1197L-36,1230M-104,1207L-131,1276M-104,1207L-37,1238M-99,1218L-124,1280M-99,1218L-39,1246M-95,1229L-117,1284M-95,1229L-42,1254M-91,1240L-110,1287M-91,1240L-45,1261M-86,1251L-102,1289M-86,1251L-49,1268M-82,1261L-94,1291M-82,1261L-53,1275M-78,1272L-86,1293M-78,1272L-58,1281M-74,1283L-78,1293M-74,1283L-63,1288"/><path d="M-130,1297 -97,1310 -66,1319 -36,1324 -8,1326 19,1324 45,1319 69,1310 92,1297 113,1281 133,1262 153,1241 171,1217 189,1193 207,1165 207,1165 176,1157 146,1151 116,1147 87,1144 60,1144 33,1147 8,1153 -16,1162 -39,1176 -60,1193 -79,1213 -98,1237 -115,1265 -130,1297ZM-130,1297L207,1165M-118,1292L-76,1313M-118,1292L-101,1249M-106,1288L-53,1313M-106,1288L-85,1233M-94,1283L-32,1313M-94,1283L-69,1219M-82,1278L-12,1313M-82,1278L-54,1206M-70,1273L7,1311M-70,1273L-39,1193M-58,1269L25,1310M-58,1269L-24,1182M-46,1264L42,1307M-46,1264L-10,1173M-34,1259L58,1305M-34,1259L3,1164M-22,1255L73,1301M-22,1255L16,1156M-10,1250L86,1297M-10,1250L29,1150M2,1245L99,1293M2,1245L41,1145M14,1241L110,1288M14,1241L53,1141M26,1236L120,1282M26,1236L64,1138M38,1231L130,1276M38,1231L75,1136M50,1227L138,1270M50,1227L85,1135M62,1222L145,1263M62,1222L95,1136M74,1217L152,1255M74,1217L105,1137M86,1212L157,1247M86,1212L115,1139M98,1208L162,1239M98,1208L124,1142M110,1203L166,1231M110,1203L133,1145M122,1198L170,1222M122,1198L141,1149M134,1194L173,1213M134,1194L150,1153M146,1189L176,1203M146,1189L158,1159M158,1184L178,1194M158,1184L166,1164M170,1180L180,1184M170,1180L174,1170"/><path d="M217,1354 220,1322 220,1292 217,1264 211,1239 202,1215 191,1194 176,1175 159,1159 139,1144 117,1131 93,1120 68,1109 41,1100 13,1092 13,1092 13,1122 16,1150 20,1177 25,1203 32,1228 42,1250 54,1271 68,1290 86,1306 107,1320 130,1332 156,1342 185,1349 217,1354ZM217,1354L13,1092M210,1345L225,1313M210,1345L176,1352M204,1337L222,1297M204,1337L161,1345M197,1328L218,1281M197,1328L146,1337M190,1319L214,1267M190,1319L133,1330M183,1310L210,1252M183,1310L120,1322M176,1302L205,1239M176,1302L108,1315M169,1293L200,1226M169,1293L97,1307M163,1284L195,1214M163,1284L87,1299M156,1276L189,1203M156,1276L77,1290M149,1267L183,1193M149,1267L69,1282M142,1258L177,1183M142,1258L61,1273M135,1249L170,1174M135,1249L54,1265M129,1241L163,1166M129,1241L48,1256M122,1232L155,1159M122,1232L43,1247M115,1223L148,1152M115,1223L38,1238M108,1215L140,1146M108,1215L34,1228M101,1206L131,1141M101,1206L31,1219M95,1197L123,1136M95,1197L28,1209M88,1188L114,1132M88,1188L27,1200M81,1180L105,1128M81,1180L25,1190M74,1171L95,1125M74,1171L24,1180M67,1162L86,1122M67,1162L24,1170M60,1153L76,1120M60,1153L24,1160M54,1145L66,1117M54,1145L24,1150M47,1136L56,1116M47,1136L25,1140M40,1127L46,1114M40,1127L26,1130M33,1119L36,1113M33,1119L27,1120"/><path d="M412,1002 388,1020 367,1039 349,1058 334,1079 321,1100 311,1122 304,1145 299,1168 297,1193 297,1218 299,1243 302,1269 307,1296 313,1323 313,1323 334,1304 352,1285 370,1265 386,1245 400,1224 412,1203 422,1181 429,1158 433,1134 434,1110 433,1084 429,1058 422,1031 412,1002ZM412,1002L313,1323M408,1016L374,1036M408,1016L425,1051M404,1030L360,1055M404,1030L425,1075M399,1044L348,1073M399,1044L425,1097M395,1058L337,1091M395,1058L424,1118M391,1072L327,1108M391,1072L423,1138M386,1086L318,1125M386,1086L421,1157M382,1100L311,1141M382,1100L418,1174M378,1114L304,1156M378,1114L415,1190M373,1128L299,1170M373,1128L411,1204M369,1142L296,1183M369,1142L406,1217M365,1156L293,1196M365,1156L401,1229M361,1170L292,1208M361,1170L395,1240M356,1184L292,1220M356,1184L389,1250M352,1198L293,1231M352,1198L382,1258M348,1212L295,1241M348,1212L374,1266M343,1225L297,1252M343,1225L367,1273M339,1239L301,1261M339,1239L358,1279M335,1253L304,1270M335,1253L350,1285M330,1267L309,1279M330,1267L341,1289M326,1281L314,1288M326,1281L332,1294"/><path d="M577,1121 548,1118 520,1119 495,1122 471,1128 450,1136 430,1147 413,1160 397,1176 384,1195 372,1215 361,1237 351,1260 342,1284 335,1311 335,1311 362,1309 388,1307 413,1303 436,1298 459,1291 480,1282 499,1271 516,1257 532,1241 545,1222 556,1200 565,1176 573,1150 577,1121ZM577,1121L335,1311M569,1127L539,1115M569,1127L574,1159M561,1133L524,1118M561,1133L567,1173M553,1140L509,1122M553,1140L559,1187M545,1146L495,1126M545,1146L552,1199M537,1152L482,1130M537,1152L545,1211M529,1159L469,1135M529,1159L537,1222M521,1165L457,1140M521,1165L530,1233M513,1171L446,1145M513,1171L522,1242M505,1178L436,1150M505,1178L515,1251M496,1184L426,1156M496,1184L507,1259M488,1190L417,1162M488,1190L499,1266M480,1197L409,1168M480,1197L491,1273M472,1203L402,1175M472,1203L482,1278M464,1209L395,1182M464,1209L474,1283M456,1216L389,1189M456,1216L466,1287M448,1222L383,1196M448,1222L457,1291M440,1228L378,1204M440,1228L449,1294M432,1235L374,1212M432,1235L440,1296M424,1241L370,1220M424,1241L431,1298M416,1247L367,1228M416,1247L423,1299M407,1254L364,1236M407,1254L414,1300M399,1260L361,1245M399,1260L405,1300M391,1266L359,1253M391,1266L396,1300M383,1273L357,1262M383,1273L387,1300M375,1279L356,1271M375,1279L378,1299M367,1285L355,1280M367,1285L369,1298M359,1292L354,1290M359,1292L360,1297"/><path d="M470,1335 499,1335 526,1333 552,1328 577,1321 600,1312 622,1301 642,1288 661,1272 679,1255 695,1236 710,1215 725,1193 739,1170 752,1146 752,1146 725,1149 698,1153 673,1158 648,1165 624,1172 601,1182 579,1193 559,1207 541,1223 523,1241 508,1261 494,1283 481,1308 470,1335ZM470,1335L752,1146M483,1326L513,1336M483,1326L485,1294M497,1317L535,1330M497,1317L499,1276M510,1308L556,1324M510,1308L513,1260M523,1299L575,1317M523,1299L527,1244M537,1290L594,1310M537,1290L540,1230M550,1281L611,1302M550,1281L554,1217M564,1272L626,1294M564,1272L567,1206M577,1263L641,1285M577,1263L581,1196M591,1254L654,1276M591,1254L594,1187M604,1245L665,1267M604,1245L608,1180M618,1236L676,1257M618,1236L621,1174M631,1227L685,1246M631,1227L634,1170M644,1218L694,1235M644,1218L647,1166M658,1209L701,1224M658,1209L660,1163M671,1200L708,1213M671,1200L673,1161M685,1191L714,1201M685,1191L686,1160M698,1182L719,1190M698,1182L699,1160M712,1173L724,1178M712,1173L712,1160"/><path d="M649,1095 655,1121 664,1143 674,1163 686,1181 699,1197 714,1210 731,1221 749,1229 768,1236 788,1240 810,1243 832,1244 855,1245 879,1244 879,1244 870,1221 861,1200 850,1181 839,1162 826,1145 812,1130 797,1117 781,1107 763,1099 743,1093 722,1090 699,1089 675,1090 649,1095ZM649,1095L879,1244M658,1101L658,1132M658,1101L686,1088M667,1107L667,1146M667,1107L703,1091M676,1113L676,1159M676,1113L718,1094M686,1119L685,1171M686,1119L733,1097M695,1125L695,1182M695,1125L747,1101M704,1131L704,1193M704,1131L760,1105M713,1137L713,1202M713,1137L773,1109M722,1142L722,1210M722,1142L784,1114M732,1148L731,1217M732,1148L794,1120M741,1154L741,1223M741,1154L804,1126M750,1160L750,1229M750,1160L812,1132M759,1166L759,1233M759,1166L820,1139M769,1172L768,1236M769,1172L827,1146M778,1178L778,1239M778,1178L833,1153M787,1184L787,1240M787,1184L838,1161M796,1190L796,1241M796,1190L843,1169M805,1196L805,1241M805,1196L847,1177M815,1202L815,1241M815,1202L850,1186M824,1208L824,1240M824,1208L853,1194M833,1214L833,1239M833,1214L856,1203M842,1220L842,1237M842,1220L858,1213M852,1226L852,1235M852,1226L860,1222"/><path d="M1130,1141 1097,1139 1066,1140 1037,1144 1009,1150 982,1158 957,1170 934,1184 912,1200 891,1218 872,1239 854,1262 837,1285 820,1310 804,1337 804,1337 835,1335 865,1332 894,1328 922,1322 949,1315 975,1306 1000,1294 1023,1280 1045,1263 1065,1244 1083,1222 1101,1198 1116,1171 1130,1141ZM1130,1141L804,1337M1119,1148L1089,1135M1119,1148L1116,1180M1107,1154L1071,1138M1107,1154L1104,1194M1096,1161L1053,1142M1096,1161L1093,1208M1085,1168L1036,1147M1085,1168L1081,1221M1074,1175L1020,1151M1074,1175L1069,1233M1062,1181L1004,1156M1062,1181L1058,1244M1051,1188L990,1161M1051,1188L1046,1255M1040,1195L976,1167M1040,1195L1035,1265M1029,1202L962,1173M1029,1202L1023,1274M1017,1208L950,1179M1017,1208L1012,1282M1006,1215L938,1185M1006,1215L1001,1289M995,1222L927,1192M995,1222L989,1296M984,1229L916,1199M984,1229L978,1302M973,1235L907,1207M973,1235L967,1307M961,1242L898,1214M961,1242L956,1311M950,1249L890,1222M950,1249L945,1315M939,1256L882,1231M939,1256L934,1318M928,1262L875,1239M928,1262L923,1320M916,1269L868,1248M916,1269L912,1322M905,1276L862,1257M905,1276L902,1323M894,1283L856,1266M894,1283L891,1324M883,1289L851,1275M883,1289L880,1324M872,1296L845,1285M872,1296L869,1324M860,1303L841,1294M860,1303L859,1324M849,1310L836,1304M849,1310L848,1324M838,1316L832,1314M838,1316L837,1322"/><path d="M997,1048 994,1081 996,1110 999,1137 1006,1161 1015,1183 1027,1201 1043,1217 1060,1230 1081,1240 1104,1248 1128,1254 1154,1259 1182,1263 1211,1264 1211,1264 1209,1235 1206,1208 1202,1182 1196,1157 1188,1134 1178,1114 1165,1096 1150,1080 1131,1068 1110,1058 1086,1051 1059,1047 1030,1046 997,1048ZM997,1048L1211,1264M1006,1057L1002,1106M1006,1057L1054,1054M1015,1066L1010,1128M1015,1066L1076,1062M1024,1075L1018,1148M1024,1075L1097,1070M1032,1084L1026,1167M1032,1084L1115,1078M1041,1093L1034,1184M1041,1093L1132,1087M1050,1102L1042,1200M1050,1102L1148,1095M1059,1111L1051,1214M1059,1111L1162,1104M1068,1120L1060,1226M1068,1120L1174,1113M1077,1129L1068,1236M1077,1129L1184,1122M1086,1138L1077,1245M1086,1138L1193,1131M1095,1147L1086,1252M1095,1147L1200,1140M1104,1156L1096,1257M1104,1156L1205,1149M1113,1165L1105,1261M1113,1165L1209,1158M1122,1174L1114,1264M1122,1174L1212,1168M1131,1183L1124,1265M1131,1183L1213,1177M1139,1192L1134,1266M1139,1192L1213,1187M1148,1201L1143,1265M1148,1201L1212,1197M1157,1210L1153,1263M1157,1210L1210,1207M1166,1219L1163,1260M1166,1219L1207,1216M1175,1228L1173,1257M1175,1228L1204,1226M1184,1237L1183,1253M1184,1237L1200,1236"/><path d="M79,1232 51,1231 26,1233 2,1237 -20,1244 -41,1252 -60,1262 -78,1275 -94,1290 -109,1306 -122,1325 -134,1345 -146,1366 -157,1388 -166,1411 -166,1411 -141,1409 -117,1405 -93,1401 -71,1395 -49,1388 -29,1379 -10,1368 8,1356 24,1340 38,1323 50,1304 62,1282 71,1259 79,1232ZM79,1232L-166,1411M69,1239L34,1235M69,1239L63,1274M59,1247L15,1241M59,1247L51,1291M49,1254L-3,1247M49,1254L40,1306M40,1261L-20,1253M40,1261L29,1320M30,1268L-36,1259M30,1268L18,1333M20,1275L-51,1266M20,1275L7,1345M10,1282L-64,1272M10,1282L-3,1356M0,1289L-77,1279M0,1289L-13,1366M-9,1297L-88,1286M-9,1297L-23,1374M-19,1304L-98,1293M-19,1304L-33,1382M-29,1311L-107,1301M-29,1311L-43,1388M-39,1318L-115,1308M-39,1318L-52,1393M-49,1325L-121,1316M-49,1325L-62,1397M-58,1332L-127,1323M-58,1332L-71,1401M-68,1339L-132,1331M-68,1339L-80,1403M-78,1347L-136,1339M-78,1347L-89,1404M-88,1354L-139,1347M-88,1354L-97,1405M-98,1361L-142,1355M-98,1361L-106,1405M-107,1368L-144,1363M-107,1368L-114,1405M-117,1375L-146,1371M-117,1375L-122,1403M-127,1382L-147,1380M-127,1382L-131,1402M-137,1389L-147,1388M-137,1389L-139,1400"/><path d="M148,1515 157,1493 163,1472 168,1451 170,1431 170,1412 167,1393 163,1375 156,1357 147,1340 137,1323 125,1307 111,1291 97,1275 82,1260 82,1260 76,1281 71,1301 67,1322 65,1342 64,1362 64,1381 67,1400 72,1418 79,1435 88,1453 100,1469 114,1485 129,1500 148,1515ZM148,1515L82,1260M144,1500L162,1476M144,1500L117,1488M140,1485L164,1454M140,1485L104,1470M136,1470L165,1433M136,1470L93,1452M132,1455L165,1413M132,1455L84,1434M129,1440L163,1395M129,1440L77,1418M125,1425L161,1379M125,1425L71,1402M121,1410L157,1363M121,1410L67,1387M117,1395L152,1350M117,1395L64,1373M113,1380L146,1337M113,1380L63,1359M109,1365L139,1326M109,1365L64,1346M105,1350L131,1316M105,1350L66,1333M101,1335L123,1307M101,1335L69,1321M97,1320L114,1299M97,1320L73,1309M93,1305L104,1291M93,1305L77,1298M90,1290L94,1284M90,1290L83,1287"/><path d="M175,1443 207,1434 235,1423 260,1409 281,1394 299,1378 313,1359 324,1339 331,1317 336,1293 337,1268 336,1241 333,1214 329,1186 322,1157 322,1157 295,1168 270,1181 246,1195 224,1209 204,1225 187,1242 173,1261 163,1282 156,1304 153,1329 153,1355 157,1382 164,1412 175,1443ZM175,1443L322,1157M182,1430L234,1412M182,1430L167,1377M189,1416L256,1393M189,1416L169,1348M196,1402L275,1374M196,1402L173,1322M203,1389L293,1357M203,1389L177,1297M210,1375L308,1340M210,1375L181,1275M217,1362L322,1325M217,1362L186,1255M224,1348L332,1310M224,1348L192,1237M231,1334L341,1295M231,1334L199,1222M238,1321L347,1282M238,1321L206,1209M245,1307L351,1269M245,1307L214,1199M252,1293L353,1257M252,1293L222,1190M259,1280L354,1246M259,1280L231,1184M266,1266L352,1236M266,1266L241,1179M273,1252L349,1226M273,1252L251,1176M280,1239L344,1216M280,1239L262,1174M287,1225L338,1207M287,1225L272,1173M294,1211L331,1198M294,1211L284,1174M301,1198L324,1190M301,1198L295,1175M308,1184L315,1182M308,1184L307,1178"/><path d="M434,1440 444,1414 449,1389 453,1365 453,1342 451,1321 446,1301 437,1282 426,1265 413,1249 397,1234 379,1220 359,1206 339,1193 316,1181 316,1181 310,1206 306,1230 304,1254 303,1277 303,1299 307,1320 312,1339 321,1358 332,1375 347,1391 364,1405 384,1418 407,1430 434,1440ZM434,1440L316,1181M427,1426L444,1386M427,1426L386,1413M421,1412L443,1359M421,1412L367,1394M414,1397L441,1335M414,1397L349,1376M408,1383L438,1312M408,1383L335,1359M401,1368L434,1292M401,1368L322,1343M394,1354L429,1274M394,1354L312,1327M388,1340L423,1259M388,1340L304,1313M381,1325L415,1246M381,1325L299,1299M375,1311L408,1234M375,1311L296,1285M368,1297L399,1225M368,1297L295,1273M362,1282L389,1218M362,1282L295,1261M355,1268L379,1212M355,1268L298,1249M349,1253L368,1208M349,1253L302,1238M342,1239L357,1205M342,1239L307,1228M336,1225L345,1203M336,1225L313,1217M329,1210L333,1202M329,1210L320,1207"/><path d="M413,1336 431,1361 450,1382 470,1401 491,1416 512,1429 535,1438 558,1444 581,1447 606,1447 631,1445 657,1441 683,1434 709,1427 736,1417 736,1417 717,1396 697,1377 677,1359 657,1343 636,1329 614,1318 592,1309 569,1303 545,1301 520,1301 495,1305 468,1312 441,1322 413,1336ZM413,1336L736,1417M427,1339L438,1373M427,1339L453,1314M441,1343L455,1386M441,1343L474,1311M455,1346L472,1398M455,1346L494,1309M469,1350L488,1408M469,1350L514,1307M483,1353L504,1417M483,1353L532,1307M498,1357L520,1425M498,1357L550,1307M512,1360L535,1432M512,1360L566,1308M526,1364L549,1438M526,1364L581,1311M540,1368L563,1442M540,1368L596,1314M554,1371L577,1445M554,1371L609,1318M568,1375L591,1446M568,1375L622,1323M582,1378L604,1447M582,1378L634,1329M596,1382L616,1446M596,1382L645,1335M610,1385L629,1444M610,1385L655,1342M624,1389L641,1442M624,1389L664,1350M638,1393L653,1439M638,1393L673,1359M652,1396L664,1435M652,1396L681,1368M666,1400L676,1430M666,1400L689,1378M680,1403L687,1425M680,1403L696,1388M694,1407L698,1419M694,1407L703,1398"/><path d="M764,1210 748,1232 736,1254 725,1276 718,1298 712,1320 709,1342 709,1364 711,1386 715,1408 721,1430 729,1452 738,1475 748,1497 760,1519 760,1519 773,1497 783,1475 793,1453 801,1431 808,1409 813,1387 815,1365 815,1343 813,1321 808,1299 801,1277 791,1255 779,1232 764,1210ZM764,1210L760,1519M764,1224L740,1245M764,1224L787,1246M763,1238L733,1265M763,1238L793,1266M763,1252L727,1284M763,1252L798,1285M763,1266L722,1302M763,1266L803,1303M763,1280L718,1320M763,1280L807,1321M763,1294L715,1336M763,1294L809,1337M763,1308L713,1352M763,1308L811,1353M762,1322L712,1367M762,1322L812,1368M762,1336L712,1381M762,1336L812,1382M762,1351L712,1394M762,1351L811,1395M762,1365L714,1407M762,1365L809,1408M762,1379L716,1418M762,1379L806,1419M762,1393L720,1430M762,1393L803,1430M762,1407L724,1440M762,1407L799,1441M761,1421L728,1450M761,1421L794,1451M761,1435L733,1459M761,1435L788,1460M761,1449L739,1468M761,1449L783,1469M761,1463L745,1477M761,1463L776,1477M761,1477L751,1485M761,1477L770,1485"/><path d="M972,1196 940,1196 911,1199 884,1205 858,1213 835,1224 814,1237 795,1253 778,1271 764,1291 750,1314 739,1338 728,1363 718,1390 710,1418 710,1418 739,1415 767,1409 794,1403 820,1395 844,1386 866,1375 887,1361 906,1345 922,1327 937,1305 949,1282 959,1256 967,1227 972,1196ZM972,1196L710,1418M964,1203L928,1197M964,1203L964,1240M956,1210L911,1202M956,1210L956,1255M948,1217L896,1208M948,1217L948,1270M940,1224L881,1214M940,1224L940,1283M931,1231L866,1220M931,1231L932,1297M923,1238L853,1226M923,1238L923,1309M915,1244L840,1232M915,1244L915,1321M907,1251L828,1238M907,1251L907,1331M899,1258L817,1245M899,1258L899,1342M890,1265L806,1251M890,1265L891,1351M882,1272L796,1258M882,1272L882,1359M874,1279L787,1265M874,1279L874,1367M866,1286L779,1272M866,1286L866,1374M858,1293L772,1279M858,1293L858,1380M849,1300L765,1286M849,1300L850,1385M841,1307L759,1293M841,1307L841,1390M833,1314L754,1301M833,1314L833,1394M825,1321L749,1308M825,1321L825,1397M817,1328L745,1316M817,1328L817,1400M808,1335L742,1324M808,1335L809,1402M800,1342L739,1331M800,1342L800,1404M792,1349L737,1339M792,1349L792,1405M784,1356L735,1347M784,1356L784,1406M776,1363L733,1355M776,1363L776,1406M767,1370L732,1364M767,1370L768,1406M759,1377L731,1372M759,1377L759,1405M751,1383L730,1380M751,1383L751,1405M743,1390L730,1388M743,1390L743,1404"/><path d="M1094,1462 1099,1428 1100,1397 1098,1368 1093,1342 1085,1318 1073,1296 1059,1277 1041,1261 1021,1246 998,1234 973,1223 946,1214 918,1205 888,1199 888,1199 888,1229 889,1259 892,1287 896,1313 903,1339 912,1362 923,1383 938,1402 956,1418 977,1431 1002,1443 1029,1452 1059,1458 1094,1462ZM1094,1462L888,1199M1084,1449L1096,1402M1084,1449L1036,1450M1074,1437L1090,1377M1074,1437L1012,1437M1064,1424L1083,1353M1064,1424L990,1425M1055,1412L1076,1330M1055,1412L971,1412M1045,1399L1068,1310M1045,1399L953,1400M1035,1387L1059,1292M1035,1387L938,1387M1025,1374L1051,1276M1025,1374L924,1375M1015,1361L1041,1262M1015,1361L913,1362M1006,1349L1031,1251M1006,1349L904,1350M996,1336L1021,1241M996,1336L897,1337M986,1324L1010,1233M986,1324L892,1325M976,1311L998,1226M976,1311L889,1312M967,1299L987,1222M967,1299L887,1299M957,1286L974,1218M957,1286L887,1287M947,1274L962,1216M947,1274L888,1274M937,1261L949,1215M937,1261L890,1262M928,1249L936,1215M928,1249L893,1249M918,1236L923,1216M918,1236L897,1236M908,1224L909,1218M908,1224L902,1224"/><path d="M1246,1131 1215,1151 1189,1173 1165,1195 1144,1219 1127,1244 1113,1270 1102,1298 1095,1327 1091,1357 1089,1388 1089,1419 1091,1452 1095,1485 1100,1518 1100,1518 1127,1497 1151,1474 1174,1451 1196,1428 1215,1403 1231,1378 1244,1351 1255,1324 1262,1295 1265,1265 1265,1233 1263,1200 1257,1167 1246,1131ZM1246,1131L1100,1518M1243,1140L1209,1150M1243,1140L1262,1170M1240,1148L1200,1161M1240,1148L1262,1184M1237,1157L1191,1171M1237,1157L1262,1198M1233,1166L1182,1182M1233,1166L1261,1211M1230,1174L1174,1192M1230,1174L1261,1224M1227,1183L1166,1202M1227,1183L1260,1237M1224,1191L1159,1212M1224,1191L1259,1250M1221,1200L1151,1222M1221,1200L1258,1262M1217,1209L1145,1231M1217,1209L1257,1274M1214,1217L1138,1241M1214,1217L1255,1285M1211,1226L1132,1250M1211,1226L1254,1296M1208,1234L1127,1260M1208,1234L1252,1307M1204,1243L1121,1269M1204,1243L1249,1317M1201,1252L1117,1278M1201,1252L1247,1327M1198,1260L1112,1287M1198,1260L1244,1337M1195,1269L1108,1296M1195,1269L1242,1346M1191,1277L1104,1305M1191,1277L1239,1355M1188,1286L1101,1313M1188,1286L1235,1364M1185,1295L1098,1322M1185,1295L1232,1372M1182,1303L1096,1330M1182,1303L1228,1380M1178,1312L1094,1338M1178,1312L1224,1387M1175,1320L1092,1346M1175,1320L1220,1395M1172,1329L1091,1354M1172,1329L1216,1402M1169,1338L1090,1362M1169,1338L1212,1408M1165,1346L1089,1370M1165,1346L1207,1415M1162,1355L1088,1378M1162,1355L1202,1421M1159,1363L1088,1385M1159,1363L1197,1427M1156,1372L1089,1393M1156,1372L1192,1432M1152,1381L1089,1400M1152,1381L1187,1437M1149,1389L1090,1408M1149,1389L1182,1442M1146,1398L1091,1415M1146,1398L1176,1447M1143,1406L1092,1422M1143,1406L1170,1452M1139,1415L1093,1430M1139,1415L1165,1456M1136,1424L1095,1437M1136,1424L1159,1461M1133,1432L1096,1444M1133,1432L1153,1465M1130,1441L1098,1451M1130,1441L1147,1469M1126,1449L1100,1458M1126,1449L1141,1473M1123,1458L1102,1465M1123,1458L1134,1477M1120,1467L1105,1471M1120,1467L1128,1480M1117,1475L1107,1478M1117,1475L1122,1484"/></g></svg>
<div class="t" style="left:162.75px;top:64.83px;font-size:59.5px;line-height:59.5px;font-weight:400;letter-spacing:0px;color:#282828;transform:scaleX(0.946);transform-origin:22.5px 50%">D</div>
<div class="t" style="left:207.1px;top:64.83px;font-size:59.5px;line-height:59.5px;font-weight:400;letter-spacing:0px;color:#282828;transform:scaleX(0.872);transform-origin:19.5px 50%">A</div>
<div class="t" style="left:246.95px;top:64.83px;font-size:59.5px;line-height:59.5px;font-weight:400;letter-spacing:0px;color:#282828;transform:scaleX(0.915);transform-origin:20.0px 50%">S</div>
<div class="t" style="left:303.25px;top:64.83px;font-size:59.5px;line-height:59.5px;font-weight:400;letter-spacing:0px;color:#282828;transform:scaleX(0.915);transform-origin:22.0px 50%">K</div>
<div class="t" style="left:344.05px;top:64.83px;font-size:59.5px;line-height:59.5px;font-weight:400;letter-spacing:0px;color:#282828;transform:scaleX(0.888);transform-origin:18.0px 50%">L</div>
<div class="t" style="left:376.3px;top:64.83px;font-size:59.5px;line-height:59.5px;font-weight:400;letter-spacing:0px;color:#282828;transform:scaleX(0.850);transform-origin:8.0px 50%">I</div>
<div class="t" style="left:397.25px;top:64.83px;font-size:59.5px;line-height:59.5px;font-weight:400;letter-spacing:0px;color:#282828;transform:scaleX(0.972);transform-origin:25.0px 50%">M</div>
<div class="t" style="left:450.4px;top:64.83px;font-size:59.5px;line-height:59.5px;font-weight:400;letter-spacing:0px;color:#282828;transform:scaleX(0.897);transform-origin:19.5px 50%">A</div>
<div class="t" style="left:509.0px;top:64.83px;font-size:59.5px;line-height:59.5px;font-weight:400;letter-spacing:0px;color:#282828;transform:scaleX(0.850);transform-origin:8.0px 50%">I</div>
<div class="t" style="left:526.1px;top:64.83px;font-size:59.5px;line-height:59.5px;font-weight:400;letter-spacing:0px;color:#282828;transform:scaleX(1.000);transform-origin:21.5px 50%">N</div>
<div class="t" style="left:688.1px;top:135.84px;font-size:27px;line-height:27px;font-weight:400;letter-spacing:1.86px;color:#282828;">(Küstenregionen)</div>
<div class="t" style="left:151.8px;top:233.91px;font-size:23.5px;line-height:23.5px;font-weight:400;letter-spacing:1.293px;color:#282828;">Temperatur in °C</div>
<div class="r" style="left:698px;top:234px;width:22px;height:22px;background:#ffbe00"></div>
<div class="r" style="left:698px;top:269px;width:22px;height:22px;background:#2bd8e0"></div>
<div class="t" style="left:741.7px;top:235.97px;font-size:22.6px;line-height:22.6px;font-weight:400;letter-spacing:1.136px;color:#282828;">Max. Temperatur</div>
<div class="t" style="left:741.7px;top:268.37px;font-size:22.6px;line-height:22.6px;font-weight:400;letter-spacing:1.236px;color:#282828;">Min. Temperatur</div>
<div class="t" style="right:892.5px;top:828.34px;font-size:25px;line-height:25px;font-weight:400;letter-spacing:2.3px;color:#282828;text-align:right">0</div>
<div class="t" style="right:892.5px;top:796.74px;font-size:25px;line-height:25px;font-weight:400;letter-spacing:2.3px;color:#282828;text-align:right">2</div>
<div class="t" style="right:892.5px;top:765.14px;font-size:25px;line-height:25px;font-weight:400;letter-spacing:2.3px;color:#282828;text-align:right">4</div>
<div class="t" style="right:892.5px;top:733.54px;font-size:25px;line-height:25px;font-weight:400;letter-spacing:2.3px;color:#282828;text-align:right">6</div>
<div class="t" style="right:892.5px;top:701.94px;font-size:25px;line-height:25px;font-weight:400;letter-spacing:2.3px;color:#282828;text-align:right">8</div>
<div class="t" style="right:892.5px;top:670.34px;font-size:25px;line-height:25px;font-weight:400;letter-spacing:2.3px;color:#282828;text-align:right">10</div>
<div class="t" style="right:892.5px;top:638.74px;font-size:25px;line-height:25px;font-weight:400;letter-spacing:2.3px;color:#282828;text-align:right">12</div>
<div class="t" style="right:892.5px;top:607.14px;font-size:25px;line-height:25px;font-weight:400;letter-spacing:2.3px;color:#282828;text-align:right">14</div>
<div class="t" style="right:892.5px;top:575.54px;font-size:25px;line-height:25px;font-weight:400;letter-spacing:2.3px;color:#282828;text-align:right">16</div>
<div class="t" style="right:892.5px;top:543.94px;font-size:25px;line-height:25px;font-weight:400;letter-spacing:2.3px;color:#282828;text-align:right">18</div>
<div class="t" style="right:892.5px;top:512.34px;font-size:25px;line-height:25px;font-weight:400;letter-spacing:2.3px;color:#282828;text-align:right">20</div>
<div class="t" style="right:892.5px;top:480.74px;font-size:25px;line-height:25px;font-weight:400;letter-spacing:2.3px;color:#282828;text-align:right">22</div>
<div class="t" style="right:892.5px;top:449.14px;font-size:25px;line-height:25px;font-weight:400;letter-spacing:2.3px;color:#282828;text-align:right">24</div>
<div class="t" style="right:892.5px;top:417.54px;font-size:25px;line-height:25px;font-weight:400;letter-spacing:2.3px;color:#282828;text-align:right">26</div>
<div class="t" style="right:892.5px;top:385.94px;font-size:25px;line-height:25px;font-weight:400;letter-spacing:2.3px;color:#282828;text-align:right">28</div>
<div class="t" style="right:892.5px;top:354.34px;font-size:25px;line-height:25px;font-weight:400;letter-spacing:2.3px;color:#282828;text-align:right">30</div>
<div class="t" style="right:892.5px;top:322.74px;font-size:25px;line-height:25px;font-weight:400;letter-spacing:2.3px;color:#282828;text-align:right">32</div>
<div class="t" style="right:892.5px;top:291.14px;font-size:25px;line-height:25px;font-weight:400;letter-spacing:2.3px;color:#282828;text-align:right">34</div>
<div class="r" style="left:214px;top:365.5px;width:686px;height:2px;background:#748688"></div>
<div class="r" style="left:214px;top:526px;width:686px;height:2px;background:#748688"></div>
<div class="r" style="left:214px;top:682.3px;width:686px;height:2px;background:#748688"></div>
<div class="r" style="left:214.7px;top:700px;width:21.2px;height:137.5px;background:#ffbe00"></div>
<div class="r" style="left:235.9px;top:793px;width:20px;height:44.5px;background:#00d3de"></div>
<div class="t" style="left:215.6px;top:847.87px;font-size:20px;line-height:20px;font-weight:400;letter-spacing:1.35px;color:#282828;">JAN</div>
<div class="r" style="left:271.9px;top:668px;width:21.2px;height:169.5px;background:#ffbe00"></div>
<div class="r" style="left:293.1px;top:777px;width:20px;height:60.5px;background:#00d3de"></div>
<div class="t" style="left:269.7px;top:847.87px;font-size:20px;line-height:20px;font-weight:400;letter-spacing:-0.25px;color:#282828;">FEB</div>
<div class="r" style="left:330.9px;top:618px;width:21.2px;height:219.5px;background:#ffbe00"></div>
<div class="r" style="left:352.1px;top:746.9px;width:20px;height:90.6px;background:#00d3de"></div>
<div class="t" style="left:327.4px;top:847.87px;font-size:20px;line-height:20px;font-weight:400;letter-spacing:1.2px;color:#282828;">MÄR</div>
<div class="r" style="left:390.7px;top:572px;width:21.2px;height:265.5px;background:#ffbe00"></div>
<div class="r" style="left:411.9px;top:682px;width:20px;height:155.5px;background:#00d3de"></div>
<div class="t" style="left:389px;top:847.87px;font-size:20px;line-height:20px;font-weight:400;letter-spacing:-0.35px;color:#282828;">APR</div>
<div class="r" style="left:447.9px;top:508.2px;width:21.2px;height:329.3px;background:#ffbe00"></div>
<div class="r" style="left:469.1px;top:635.3px;width:20px;height:202.2px;background:#00d3de"></div>
<div class="t" style="left:446.4px;top:847.87px;font-size:20px;line-height:20px;font-weight:400;letter-spacing:2.0px;color:#282828;">MAI</div>
<div class="r" style="left:508.1px;top:429px;width:21.2px;height:408.5px;background:#ffbe00"></div>
<div class="r" style="left:529.3px;top:586px;width:20px;height:251.5px;background:#00d3de"></div>
<div class="t" style="left:504.6px;top:847.87px;font-size:20px;line-height:20px;font-weight:400;letter-spacing:1.2px;color:#282828;">JUN</div>
<div class="r" style="left:565px;top:383.2px;width:21.2px;height:454.3px;background:#ffbe00"></div>
<div class="r" style="left:586.2px;top:541px;width:20px;height:296.5px;background:#00d3de"></div>
<div class="t" style="left:565.7px;top:847.87px;font-size:20px;line-height:20px;font-weight:400;letter-spacing:0.55px;color:#282828;">JUL</div>
<div class="r" style="left:623.2px;top:367px;width:21.2px;height:470.5px;background:#ffbe00"></div>
<div class="r" style="left:644.4px;top:526.4px;width:20px;height:311.1px;background:#00d3de"></div>
<div class="t" style="left:622.7px;top:847.87px;font-size:20px;line-height:20px;font-weight:400;letter-spacing:0.1px;color:#282828;">AUG</div>
<div class="r" style="left:682.2px;top:443.8px;width:21.2px;height:393.7px;background:#ffbe00"></div>
<div class="r" style="left:703.4px;top:586px;width:20px;height:251.5px;background:#00d3de"></div>
<div class="t" style="left:683.3px;top:847.87px;font-size:20px;line-height:20px;font-weight:400;letter-spacing:-0.1px;color:#282828;">SEP</div>
<div class="r" style="left:740.4px;top:526px;width:21.2px;height:311.5px;background:#ffbe00"></div>
<div class="r" style="left:761.6px;top:634px;width:20px;height:203.5px;background:#00d3de"></div>
<div class="t" style="left:740.2px;top:847.87px;font-size:20px;line-height:20px;font-weight:400;letter-spacing:0.0px;color:#282828;">OKT</div>
<div class="r" style="left:800.4px;top:586.7px;width:21.2px;height:250.8px;background:#ffbe00"></div>
<div class="r" style="left:821.6px;top:683.6px;width:20px;height:153.9px;background:#00d3de"></div>
<div class="t" style="left:797.9px;top:847.87px;font-size:20px;line-height:20px;font-weight:400;letter-spacing:0.15px;color:#282828;">NOV</div>
<div class="r" style="left:858.4px;top:666px;width:21.2px;height:171.5px;background:#ffbe00"></div>
<div class="r" style="left:879.6px;top:761px;width:20px;height:76.5px;background:#00d3de"></div>
<div class="t" style="left:858.6px;top:847.87px;font-size:20px;line-height:20px;font-weight:400;letter-spacing:0.35px;color:#282828;">DEZ</div>
<div class="r" style="left:214px;top:836.3px;width:686px;height:2.6px;background:#2a2a2a"></div>
<div class="t" style="left:154.4px;top:925.11px;font-size:30px;line-height:30px;font-weight:700;letter-spacing:1.383px;color:#282828;-webkit-text-stroke:0.35px #d8f8fa">Sonnenstunden</div>
<div class="r" style="left:155.8px;top:981.5px;width:9px;height:1.8px;background:#282828"></div>
<div class="t" style="left:175.6px;top:971.59px;font-size:26px;line-height:26px;font-weight:400;letter-spacing:0.612px;color:#282828;">Ø 7-10h/Tag Sonne</div>
<div class="r" style="left:155px;top:1030.2px;width:196px;height:2.6px;background:#282828"></div>
<div class="t" style="left:152.9px;top:1063.31px;font-size:30px;line-height:30px;font-weight:700;letter-spacing:1.129px;color:#282828;-webkit-text-stroke:0.35px #d8f8fa">Beste Reisezeit</div>
<div class="r" style="left:155.3px;top:1123.4px;width:8.6px;height:1.8px;background:#282828"></div>
<div class="t" style="left:176.2px;top:1109.49px;font-size:26px;line-height:26px;font-weight:400;letter-spacing:0.756px;color:#282828;">Mai bis September</div>
<div class="t" style="left:620.4px;top:925.21px;font-size:30px;line-height:30px;font-weight:700;letter-spacing:1.737px;color:#282828;-webkit-text-stroke:0.35px #d8f8fa">Regentage</div>
<div class="r" style="left:623.1px;top:982.3px;width:8.6px;height:1.8px;background:#282828"></div>
<div class="t" style="left:643px;top:971.39px;font-size:26px;line-height:26px;font-weight:400;letter-spacing:-0.118px;color:#282828;">Nov - März Ø 12-15</div>
<div class="t" style="left:643px;top:1005.59px;font-size:26px;line-height:26px;font-weight:400;letter-spacing:1.471px;color:#282828;">Regentage/Monat</div>
<div class="r" style="left:623.1px;top:1061.4px;width:8.6px;height:1.8px;background:#282828"></div>
<div class="t" style="left:645px;top:1050.39px;font-size:26px;line-height:26px;font-weight:400;letter-spacing:0.306px;color:#282828;">April - Okt Ø 5-9</div>
<div class="t" style="left:643px;top:1084.69px;font-size:26px;line-height:26px;font-weight:400;letter-spacing:1.471px;color:#282828;">Regentage/Monat</div>

<svg width="1080" height="1350" viewBox="0 0 1080 1350" style="position:absolute;left:0;top:0" fill="none" stroke="#2a2727" stroke-linecap="round" stroke-linejoin="round">
<path d="M590.5,117.5C595.1,110.4 608.8,89.3 618.0,75.0C627.2,60.7 641.3,38.8 646.0,31.5" stroke-width="7.6"/>
<path d="M646.0,32.0C645.2,36.7 642.4,50.3 641.5,60.0C640.6,69.7 640.3,77.9 640.5,90.0C640.7,102.1 642.2,125.4 642.5,132.5" stroke-width="10"/>
<path d="M592.5,94.5C593.1,94.2 593.4,93.5 596.0,92.5C598.6,91.5 601.0,91.1 608.0,88.5C615.0,85.9 633.0,78.9 638.0,77.0" stroke-width="6.5"/>
<path d="M667.0,45.5C666.0,51.2 662.6,69.6 661.0,80.0C659.4,90.4 657.8,102.3 657.5,108.0C657.2,113.7 658.2,113.3 659.5,114.0C660.8,114.7 662.9,113.7 665.0,112.0C667.1,110.3 670.8,105.3 672.0,104.0" stroke-width="9.5"/>
<path d="M689.0,43.5C688.2,49.6 685.4,68.6 684.0,80.0C682.6,91.4 681.3,106.2 680.8,112.0C680.3,117.8 681.1,114.1 681.2,114.5" stroke-width="11"/>
<path d="M683.0,100.0C684.5,98.8 689.0,94.4 692.0,92.5C695.0,90.6 698.2,89.3 701.0,88.6C703.8,87.8 706.4,87.7 708.5,88.0C710.6,88.3 713.1,89.2 713.8,90.5C714.5,91.8 714.0,93.8 712.5,95.5C711.0,97.2 707.8,99.1 705.0,101.0C702.2,102.9 698.1,105.2 695.5,106.8C692.9,108.4 689.1,110.3 689.5,110.5C689.9,110.7 694.6,109.1 698.0,107.8C701.4,106.5 706.0,104.2 710.0,102.5C714.0,100.8 719.0,99.0 722.0,97.8C725.0,96.6 727.0,95.9 728.0,95.5" stroke-width="6.3"/>
<path d="M747.0,86.5C745.7,86.7 741.6,86.4 739.0,87.5C736.4,88.6 733.5,90.8 731.5,93.0C729.5,95.2 727.7,98.4 727.0,101.0C726.3,103.6 726.6,107.0 727.5,108.5C728.4,110.0 730.6,110.6 732.5,110.0C734.4,109.4 737.0,107.2 739.0,105.0C741.0,102.8 743.0,99.7 744.5,97.0C746.0,94.3 747.4,90.3 748.0,89.0" stroke-width="6.5"/>
<path d="M749.5,84.0C749.3,86.2 748.6,93.0 748.5,97.0C748.4,101.0 748.3,105.4 749.0,108.0C749.7,110.6 751.0,112.2 752.5,112.5C754.0,112.8 755.9,111.4 758.0,110.0C760.1,108.6 763.0,106.0 765.0,104.0C767.0,102.0 769.2,99.0 770.0,98.0" stroke-width="7"/>
<path d="M774.0,81.0C773.7,83.2 772.6,89.8 772.0,94.0C771.4,98.2 770.4,103.5 770.4,106.3C770.4,109.0 770.5,110.7 771.7,110.5C772.9,110.3 775.4,107.7 777.5,105.0C779.6,102.3 782.4,97.1 784.6,94.6C786.8,92.1 789.0,90.9 790.5,90.0C792.0,89.1 792.9,89.0 793.7,89.4C794.6,89.9 795.2,90.5 795.6,92.7C796.0,94.9 795.9,99.6 796.3,102.4C796.7,105.2 797.3,108.1 798.2,109.5C799.1,110.9 800.1,111.0 801.5,110.8C802.9,110.6 805.0,109.6 806.7,108.2C808.4,106.8 810.2,104.1 811.8,102.4C813.3,100.7 815.3,98.7 816.0,98.0" stroke-width="7.4"/>
<path d="M820.5,88.0C820.2,90.0 819.0,96.3 818.5,100.0C818.0,103.7 817.1,107.7 817.5,110.0C817.9,112.3 818.9,114.2 821.0,114.0C823.1,113.8 826.8,110.8 830.0,109.0C833.2,107.2 837.0,104.8 840.0,103.0C843.0,101.2 845.7,99.8 848.0,98.0C850.3,96.2 852.4,93.9 854.0,92.0C855.6,90.1 857.2,88.0 857.5,86.5C857.8,85.0 857.2,83.5 856.0,82.8C854.8,82.1 852.6,81.6 850.5,82.3C848.4,83.0 845.6,84.7 843.5,87.0C841.4,89.3 839.0,92.8 838.0,96.0C837.0,99.2 836.7,103.3 837.5,106.0C838.3,108.7 840.6,111.1 843.0,112.0C845.4,112.9 848.8,112.6 852.0,111.5C855.2,110.4 858.7,107.8 862.0,105.5C865.3,103.2 870.3,98.8 872.0,97.5" stroke-width="7"/>
<path d="M877.4,81.5C877.1,83.2 876.1,88.5 875.5,92.0C874.9,95.5 873.7,99.4 873.6,102.4C873.5,105.4 873.6,109.9 874.9,110.2C876.2,110.5 879.0,107.0 881.4,104.3C883.8,101.6 886.9,96.5 889.2,94.0C891.5,91.5 893.5,90.0 895.0,89.4C896.5,88.9 897.6,89.1 898.2,90.7C898.8,92.3 898.2,96.4 898.4,99.2C898.6,102.0 898.8,105.7 899.5,107.6C900.2,109.5 901.4,110.7 902.8,110.8C904.2,110.9 905.9,110.3 908.0,108.2C910.1,106.1 914.1,100.2 915.7,97.9C917.3,95.6 917.4,95.1 917.7,94.6" stroke-width="7.4"/>
<circle cx="821.1" cy="79.4" r="4.2" fill="#2a2727" stroke="none"/>
</svg>
<svg width="1080" height="1350" viewBox="0 0 1080 1350" style="position:absolute;left:0;top:0">
<defs>
<clipPath id="cc"><polygon points="395,1232 434,1232 434,1250 432,1256 409,1292 395,1292"/></clipPath>
<mask id="gm" maskUnits="userSpaceOnUse" x="380" y="1220" width="100" height="80">
<rect x="380" y="1220" width="100" height="80" fill="#000"/>
<circle cx="434.5" cy="1257.8" r="13.2" fill="#fff"/>
<circle cx="423.8" cy="1255.7" r="9.4" fill="#000"/>
<polygon points="420,1235 435.5,1235 434,1256 420,1256" fill="#000"/>
</mask>
</defs>
<circle cx="423" cy="1263" r="22.5" fill="#18cfe0" clip-path="url(#cc)"/>
<rect x="420" y="1235" width="40" height="45" fill="#98d62e" mask="url(#gm)"/>
<path d="M408,1290.6V1271.5A10.5,10.5 0 0 1 418.5,1261H419V1270.9H428.7V1261H429.2A10.5,10.5 0 0 1 439.7,1271.5V1290.6H428.7V1280.6H419V1290.6Z" fill="#2b2829" stroke="#d8f8fa" stroke-width="3" paint-order="stroke"/>
<rect x="419" y="1258" width="9.7" height="12.9" fill="#d8f8fa"/>
<circle cx="423.8" cy="1255.7" r="8.4" fill="#d8f8fa"/>
<circle cx="423.8" cy="1255.6" r="7.1" fill="#ffe10a"/>
<g fill="#2b2829">
<circle cx="456.3" cy="1278.3" r="8.95" fill="none" stroke="#2b2829" stroke-width="8.8"/>
<path d="M472.5,1290.9V1258A2,2 0 0 1 474.5,1256H480.3A2,2 0 0 1 482.3,1258V1290.9Z"/>
<path d="M486.1,1290.9V1269A2,2 0 0 1 488.1,1267H494.3A2,2 0 0 1 496.3,1269V1290.9Z"/>
<circle cx="491.2" cy="1259.3" r="5.3"/>
<circle cx="512.3" cy="1278.6" r="8.7" fill="none" stroke="#2b2829" stroke-width="8.6"/>
<path d="M517.2,1290.9V1258A2,2 0 0 1 519.2,1256H525A2,2 0 0 1 527,1258V1290.9Z"/>
<path d="M543,1290.9V1275.5C543,1272 541,1270.6 538.5,1270.6C536,1270.6 534,1271.8 533.2,1273.6L530.2,1268.8C532.6,1267.2 536,1266.2 540,1266.2C548.5,1266.2 553,1270 553,1277.5V1290.9Z"/>
<path fill-rule="evenodd" d="M544,1277.5C535,1277.5 529.2,1279.5 529.2,1285C529.2,1289 532.2,1291.3 536.8,1291.3C541,1291.3 544,1289.5 545,1286.5ZM543.5,1282.3C539.5,1282.3 537.6,1283 537.6,1284.7C537.6,1286 538.6,1286.6 540,1286.6C542,1286.6 543.5,1285.5 543.5,1284Z"/>
<path d="M554.6,1266.3H564L568.8,1281.2L573.8,1266.3H583L570,1296.5C568.3,1300 566.3,1301.4 562,1301.4H555L560.5,1290.5Z"/>
</g>
<g fill="#18cfe0">
<circle cx="595.6" cy="1278.8" r="8.75" fill="none" stroke="#18cfe0" stroke-width="8.6"/>
<rect x="599.4" y="1266.3" width="10" height="25"/>
<path d="M609.4,1289C609.4,1298.5 603.5,1302.3 595.5,1302.3C590,1302.3 585.8,1300.6 583.2,1297.8L589.6,1292.8C591.1,1294.3 593,1294.8 595.4,1294.8C598.4,1294.8 599.4,1293 599.4,1289Z"/>
<path d="M612.9,1266.3V1281.5C612.9,1288 617,1291.3 623.5,1291.3C626.5,1291.3 628.5,1290.2 629.4,1288.6V1290.9H639.6V1266.3H629.4V1278.5C629.4,1281 628,1282.5 626.1,1282.5C624.1,1282.5 622.9,1281 622.9,1278.5V1266.3Z"/>
<path d="M641.7,1290.9V1266.3H651.3V1269.6C652.8,1267.3 655.5,1266 659.3,1266V1275C654.5,1275 651.7,1277 651.7,1281.5V1290.9Z"/>
<path d="M661.7,1266.3V1281.5C661.7,1288 665.8,1291.3 672.3,1291.3C675.3,1291.3 677.3,1290.2 678.3,1288.6V1290.9H688.3V1266.3H678.3V1278.5C678.3,1281 676.9,1282.5 675,1282.5C673,1282.5 671.7,1281 671.7,1278.5V1266.3Z"/>
</g>
</svg>

</body></html>
